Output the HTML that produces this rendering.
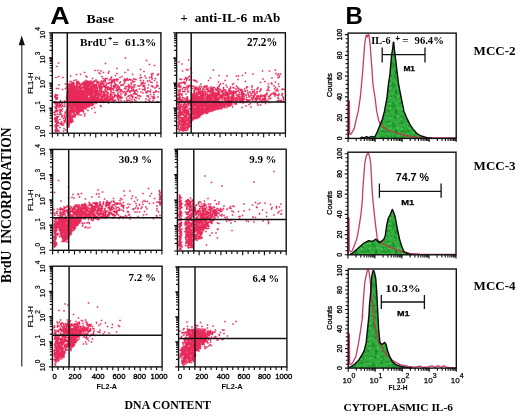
<!DOCTYPE html><html><head><meta charset="utf-8"><style>html,body{margin:0;padding:0;background:#fff;}svg{display:block;will-change:transform}</style></head><body>
<svg width="520" height="416" viewBox="0 0 520 416">
<rect width="520" height="416" fill="#fff"/>
<defs><pattern id="gpat" width="20" height="20" patternUnits="userSpaceOnUse"><rect width="20" height="20" fill="#30ad3c"/><rect x="2.4" y="9.5" width="1.4" height="1.4" fill="#1a8a26"/><rect x="0.5" y="2.8" width="1.7" height="1.7" fill="#1d8f29"/><rect x="1.3" y="2.5" width="1.7" height="1.7" fill="#178322"/><rect x="11.8" y="7.0" width="1.3" height="1.3" fill="#22952e"/><rect x="12.6" y="5.2" width="0.9" height="0.9" fill="#1a8a26"/><rect x="15.0" y="12.7" width="1.3" height="1.3" fill="#1d8f29"/><rect x="15.5" y="10.4" width="1.8" height="1.8" fill="#178322"/><rect x="3.9" y="10.5" width="1.3" height="1.3" fill="#22952e"/><rect x="6.7" y="11.2" width="1.0" height="1.0" fill="#1a8a26"/><rect x="15.2" y="16.5" width="0.9" height="0.9" fill="#1d8f29"/><rect x="8.9" y="5.3" width="0.9" height="0.9" fill="#178322"/><rect x="17.0" y="8.2" width="0.9" height="0.9" fill="#22952e"/><rect x="12.8" y="3.8" width="1.7" height="1.7" fill="#1a8a26"/><rect x="4.1" y="0.6" width="1.0" height="1.0" fill="#1d8f29"/><rect x="6.6" y="8.9" width="1.7" height="1.7" fill="#178322"/><rect x="13.2" y="6.4" width="0.8" height="0.8" fill="#22952e"/><rect x="3.0" y="18.9" width="1.3" height="1.3" fill="#1a8a26"/><rect x="13.1" y="1.0" width="0.8" height="0.8" fill="#1d8f29"/><rect x="16.1" y="11.2" width="1.1" height="1.1" fill="#178322"/><rect x="6.0" y="1.7" width="1.0" height="1.0" fill="#22952e"/><rect x="0.5" y="15.9" width="1.3" height="1.3" fill="#1a8a26"/><rect x="2.4" y="14.0" width="1.0" height="1.0" fill="#1d8f29"/><rect x="1.2" y="11.4" width="1.7" height="1.7" fill="#178322"/><rect x="0.5" y="15.3" width="1.0" height="1.0" fill="#22952e"/><rect x="1.8" y="0.3" width="1.1" height="1.1" fill="#1a8a26"/><rect x="13.8" y="9.4" width="1.7" height="1.7" fill="#1d8f29"/><rect x="4.1" y="6.0" width="1.1" height="1.1" fill="#178322"/><rect x="18.6" y="17.9" width="1.1" height="1.1" fill="#22952e"/><rect x="8.3" y="6.0" width="1.5" height="1.5" fill="#1a8a26"/><rect x="0.8" y="1.3" width="1.2" height="1.2" fill="#1d8f29"/><rect x="4.7" y="16.1" width="1.5" height="1.5" fill="#178322"/><rect x="10.4" y="12.6" width="1.5" height="1.5" fill="#22952e"/><rect x="14.8" y="17.6" width="0.9" height="0.9" fill="#1a8a26"/><rect x="11.9" y="2.7" width="1.2" height="1.2" fill="#1d8f29"/><rect x="14.9" y="17.0" width="1.6" height="1.6" fill="#178322"/><rect x="0.7" y="6.8" width="1.0" height="1.0" fill="#22952e"/><rect x="19.0" y="2.7" width="1.0" height="1.0" fill="#1a8a26"/><rect x="6.8" y="1.2" width="1.7" height="1.7" fill="#1d8f29"/><rect x="12.1" y="3.0" width="1.3" height="1.3" fill="#178322"/><rect x="1.5" y="11.6" width="1.0" height="1.0" fill="#22952e"/><rect x="0.7" y="2.2" width="1.4" height="1.4" fill="#1a8a26"/><rect x="12.1" y="6.2" width="1.4" height="1.4" fill="#1d8f29"/><rect x="6.7" y="2.5" width="1.1" height="1.1" fill="#178322"/><rect x="7.5" y="17.3" width="0.9" height="0.9" fill="#22952e"/><rect x="1.6" y="10.7" width="1.8" height="1.8" fill="#1a8a26"/><rect x="17.2" y="13.3" width="0.9" height="0.9" fill="#1d8f29"/><rect x="15.3" y="13.0" width="0.9" height="0.9" fill="#178322"/><rect x="8.8" y="0.9" width="1.6" height="1.6" fill="#22952e"/><rect x="13.7" y="15.3" width="1.6" height="1.6" fill="#1a8a26"/><rect x="5.1" y="15.0" width="1.0" height="1.0" fill="#1d8f29"/><rect x="2.6" y="7.4" width="1.3" height="1.3" fill="#178322"/><rect x="5.4" y="11.5" width="1.4" height="1.4" fill="#22952e"/><rect x="4.6" y="11.8" width="1.2" height="1.2" fill="#1a8a26"/><rect x="14.0" y="5.5" width="1.6" height="1.6" fill="#1d8f29"/><rect x="7.9" y="10.5" width="1.5" height="1.5" fill="#178322"/><rect x="9.8" y="4.9" width="1.8" height="1.8" fill="#22952e"/><rect x="1.8" y="6.2" width="1.3" height="1.3" fill="#1a8a26"/><rect x="0.5" y="2.9" width="1.6" height="1.6" fill="#1d8f29"/><rect x="14.9" y="12.1" width="1.7" height="1.7" fill="#178322"/><rect x="14.4" y="5.7" width="1.4" height="1.4" fill="#22952e"/><rect x="6.5" y="14.2" width="1.2" height="1.2" fill="#1a8a26"/><rect x="2.9" y="16.7" width="1.5" height="1.5" fill="#1d8f29"/><rect x="14.1" y="10.6" width="1.6" height="1.6" fill="#178322"/><rect x="8.5" y="10.8" width="0.9" height="0.9" fill="#22952e"/><rect x="10.5" y="15.5" width="1.5" height="1.5" fill="#1a8a26"/><rect x="15.3" y="9.4" width="1.7" height="1.7" fill="#1d8f29"/><rect x="2.1" y="16.6" width="1.2" height="1.2" fill="#178322"/><rect x="1.7" y="11.8" width="1.3" height="1.3" fill="#22952e"/><rect x="8.1" y="16.2" width="0.9" height="0.9" fill="#1a8a26"/><rect x="11.7" y="7.9" width="1.3" height="1.3" fill="#1d8f29"/><rect x="9.5" y="2.5" width="1.2" height="1.2" fill="#4cca5a"/><rect x="16.4" y="3.3" width="0.8" height="0.8" fill="#4cca5a"/><rect x="1.3" y="8.7" width="1.5" height="1.5" fill="#4cca5a"/><rect x="0.8" y="18.8" width="1.2" height="1.2" fill="#4cca5a"/><rect x="2.3" y="8.0" width="0.9" height="0.9" fill="#4cca5a"/><rect x="13.6" y="10.3" width="1.0" height="1.0" fill="#4cca5a"/><rect x="4.9" y="16.5" width="1.3" height="1.3" fill="#4cca5a"/><rect x="8.3" y="7.7" width="1.3" height="1.3" fill="#4cca5a"/><rect x="18.4" y="1.5" width="0.9" height="0.9" fill="#4cca5a"/><rect x="6.9" y="9.6" width="0.8" height="0.8" fill="#4cca5a"/><rect x="1.0" y="4.2" width="1.1" height="1.1" fill="#4cca5a"/><rect x="14.0" y="11.6" width="0.8" height="0.8" fill="#4cca5a"/><rect x="0.9" y="8.6" width="1.4" height="1.4" fill="#4cca5a"/><rect x="17.4" y="6.9" width="1.4" height="1.4" fill="#4cca5a"/><rect x="17.7" y="7.7" width="1.3" height="1.3" fill="#4cca5a"/><rect x="6.9" y="2.9" width="1.2" height="1.2" fill="#4cca5a"/><rect x="1.6" y="12.6" width="1.4" height="1.4" fill="#4cca5a"/><rect x="17.4" y="8.5" width="0.9" height="0.9" fill="#4cca5a"/><rect x="17.1" y="16.5" width="1.5" height="1.5" fill="#4cca5a"/><rect x="11.3" y="12.8" width="1.1" height="1.1" fill="#4cca5a"/><rect x="3.5" y="5.5" width="1.3" height="1.3" fill="#4cca5a"/><rect x="6.2" y="13.1" width="1.2" height="1.2" fill="#4cca5a"/><rect x="8.5" y="18.4" width="0.9" height="0.9" fill="#4cca5a"/><rect x="9.3" y="3.0" width="1.5" height="1.5" fill="#4cca5a"/><rect x="9.3" y="6.3" width="0.9" height="0.9" fill="#4cca5a"/><rect x="11.3" y="7.6" width="0.9" height="0.9" fill="#4cca5a"/><rect x="0.6" y="7.4" width="1.2" height="1.2" fill="#4cca5a"/><rect x="9.9" y="17.1" width="1.4" height="1.4" fill="#4cca5a"/><rect x="17.8" y="15.2" width="1.1" height="1.1" fill="#4cca5a"/><rect x="10.0" y="7.5" width="1.1" height="1.1" fill="#4cca5a"/></pattern></defs>
<filter id="sblur" x="-5%" y="-5%" width="110%" height="110%"><feGaussianBlur stdDeviation="0.4"/></filter>
<g filter="url(#sblur)">
<path transform="scale(.5)" d="M131 168h0M150 178h0M150 198h0M160 193h0M189 187h0M136 175h0M207 200h0M161 195h0M168 186h0M160 171h0M158 176h0M140 180h0M138 170h0M171 181h0M203 184h0M160 182h0M233 177h0M228 175h0M148 192h0M201 186h0M151 176h0M143 197h0M146 189h0M266 180h0M163 191h0M136 197h0M142 202h0M215 198h0M162 194h0M185 193h0M177 169h0M191 194h0M176 179h0M181 168h0M166 182h0M144 169h0M142 192h0M136 196h0M197 197h0M139 176h0M207 191h0M216 198h0M181 166h0M140 176h0M173 176h0M239 179h0M172 174h0M198 186h0M142 186h0M164 194h0M146 189h0M172 193h0M171 196h0M212 194h0M171 197h0M147 170h0M158 201h0M140 190h0M197 171h0M165 185h0M146 186h0M184 185h0M193 172h0M204 176h0M179 180h0M167 195h0M237 179h0M156 167h0M141 185h0M201 169h0M168 163h0M154 205h0M154 181h0M148 191h0M215 176h0M159 166h0M149 198h0M154 202h0M141 175h0M148 183h0M192 182h0M138 176h0M155 191h0M197 196h0M172 193h0M138 192h0M172 164h0M155 175h0M187 183h0M134 192h0M168 184h0M203 180h0M153 197h0M226 160h0M242 170h0M147 177h0M180 204h0M144 175h0M251 161h0M177 180h0M167 190h0M145 174h0M164 195h0M144 176h0M146 194h0M171 173h0M161 200h0M189 172h0M139 197h0M137 199h0M190 173h0M147 169h0M180 187h0M184 185h0M146 183h0M143 197h0M166 186h0M141 186h0M243 180h0M194 184h0M152 183h0M247 169h0M178 177h0M227 172h0M172 176h0M179 197h0M178 171h0M143 177h0M213 184h0M201 175h0M210 171h0M141 187h0M149 188h0M143 195h0M187 203h0M192 199h0M177 184h0M168 177h0M200 203h0M143 178h0M168 175h0M149 205h0M162 183h0M135 187h0M154 171h0M150 202h0M206 166h0M176 182h0M225 200h0M170 201h0M189 203h0M151 196h0M208 171h0M214 157h0M147 186h0M166 166h0M228 205h0M172 161h0M138 184h0M138 172h0M177 163h0M161 186h0M145 203h0M189 190h0M202 178h0M202 198h0M161 197h0M150 180h0M136 200h0M157 201h0M161 193h0M169 180h0M152 201h0M145 203h0M140 184h0M196 165h0M155 190h0M161 176h0M208 188h0M182 179h0M184 202h0M143 180h0M162 170h0M174 162h0M179 179h0M185 204h0M213 183h0M201 201h0M180 163h0M160 180h0M184 197h0M232 159h0M212 200h0M224 165h0M177 187h0M189 184h0M135 197h0M220 176h0M245 170h0M147 180h0M140 177h0M212 190h0M144 187h0M184 176h0M222 177h0M160 199h0M138 182h0M156 188h0M185 203h0M169 178h0M185 196h0M182 167h0M143 194h0M178 197h0M156 198h0M152 200h0M239 194h0M208 204h0M183 176h0M139 188h0M211 164h0M158 183h0M172 196h0M144 167h0M148 202h0M198 173h0M137 180h0M249 202h0M171 199h0M237 193h0M305 172h0M163 182h0M137 180h0M195 195h0M184 193h0M194 183h0M141 199h0M136 185h0M133 195h0M134 191h0M179 177h0M164 186h0M150 192h0M191 184h0M160 172h0M170 203h0M193 200h0M203 162h0M143 201h0M137 187h0M206 169h0M226 198h0M212 176h0M161 193h0M176 197h0M152 187h0M272 159h0M141 192h0M143 201h0M190 177h0M152 194h0M147 199h0M200 178h0M150 184h0M137 185h0M218 160h0M164 174h0M155 179h0M229 159h0M217 194h0M190 183h0M182 189h0M168 176h0M147 194h0M148 187h0M147 191h0M136 183h0M214 188h0M163 198h0M167 187h0M170 196h0M220 165h0M160 201h0M140 190h0M156 181h0M140 198h0M181 188h0M148 168h0M149 186h0M142 193h0M217 203h0M146 192h0M179 185h0M182 181h0M164 186h0M156 195h0M168 196h0M142 198h0M136 170h0M235 194h0M147 180h0M146 183h0M193 199h0M153 165h0M199 174h0M192 182h0M203 199h0M183 175h0M194 198h0M210 171h0M149 181h0M163 188h0M145 199h0M165 201h0M138 194h0M213 190h0M187 182h0M183 195h0M177 203h0M162 188h0M150 197h0M149 173h0M152 197h0M148 181h0M136 189h0M149 188h0M139 170h0M162 196h0M232 191h0M165 169h0M138 180h0M225 194h0M156 202h0M236 198h0M212 184h0M181 179h0M172 180h0M143 177h0M228 185h0M169 171h0M169 180h0M254 157h0M143 184h0M173 190h0M198 190h0M139 205h0M147 199h0M197 191h0M141 201h0M192 181h0M193 197h0M190 175h0M193 188h0M161 205h0M161 189h0M143 187h0M155 200h0M152 178h0M204 201h0M210 162h0M176 174h0M150 176h0M190 200h0M225 161h0M177 178h0M141 190h0M154 198h0M154 197h0M144 178h0M198 199h0M182 168h0M179 165h0M156 176h0M232 181h0M207 200h0M168 193h0M208 189h0M154 187h0M196 187h0M222 170h0M169 195h0M146 188h0M222 200h0M154 168h0M188 199h0M200 181h0M191 202h0M152 191h0M190 189h0M163 197h0M155 192h0M139 192h0M159 170h0M180 187h0M202 167h0M181 173h0M213 196h0M170 165h0M187 205h0M178 177h0M166 184h0M212 172h0M175 172h0M149 199h0M175 167h0M164 198h0M142 204h0M168 190h0M136 185h0M191 171h0M140 173h0M138 181h0M185 199h0M182 162h0M135 197h0M223 189h0M169 165h0M188 162h0M229 194h0M139 195h0M214 197h0M190 171h0M174 183h0M194 167h0M156 192h0M178 168h0M172 171h0M166 196h0M174 185h0M162 191h0M185 194h0M196 189h0M234 170h0M233 192h0M152 173h0M148 177h0M137 187h0M144 173h0M134 174h0M239 192h0M189 193h0M217 176h0M189 179h0M206 173h0M170 187h0M177 186h0M184 201h0M209 159h0M209 204h0M282 170h0M164 195h0M192 202h0M191 191h0M212 200h0M185 171h0M210 184h0M177 165h0M181 197h0M234 162h0M158 194h0M137 192h0M141 171h0M142 189h0M195 192h0M136 184h0M203 204h0M236 189h0M145 184h0M138 173h0M167 202h0M170 195h0M189 189h0M166 190h0M142 188h0M148 192h0M145 182h0M172 187h0M181 180h0M145 192h0M164 175h0M147 169h0M135 169h0M204 173h0M134 199h0M208 194h0M166 195h0M152 187h0M241 164h0M140 188h0M146 199h0M141 188h0M160 192h0M155 186h0M184 171h0M148 191h0M164 188h0M138 181h0M195 175h0M147 194h0M141 180h0M144 189h0M159 178h0M163 192h0M224 178h0M161 182h0M145 198h0M148 196h0M156 195h0M169 181h0M148 199h0M169 177h0M157 206h0M145 200h0M213 189h0M165 198h0M194 181h0M144 174h0M186 197h0M141 175h0M152 187h0M201 167h0M169 202h0M152 203h0M149 194h0M227 186h0M217 177h0M143 170h0M146 168h0M201 190h0M171 196h0M160 202h0M153 181h0M141 203h0M186 175h0M174 198h0M138 200h0M174 169h0M165 197h0M155 194h0M149 199h0M151 187h0M186 186h0M221 177h0M167 199h0M139 202h0M151 173h0M224 194h0M155 180h0M168 172h0M178 172h0M252 187h0M152 178h0M183 173h0M155 173h0M136 195h0M175 164h0M279 178h0M142 190h0M164 169h0M171 174h0M193 205h0M152 198h0M173 193h0M162 187h0M135 177h0M185 184h0M237 199h0M143 201h0M138 185h0M148 170h0M206 200h0M137 201h0M212 184h0M184 177h0M146 190h0M175 182h0M188 178h0M214 174h0M154 167h0M171 175h0M191 162h0M162 196h0M158 196h0M158 183h0M187 191h0M149 175h0M192 189h0M183 194h0M180 191h0M145 187h0M172 205h0M168 200h0M147 190h0M184 193h0M151 199h0M184 191h0M165 199h0M158 181h0M200 204h0M248 161h0M240 184h0M139 172h0M150 178h0M215 193h0M145 169h0M188 183h0M139 176h0M158 200h0M222 176h0M212 198h0M169 197h0M173 192h0M143 202h0M142 169h0M166 191h0M152 193h0M159 195h0M186 195h0M155 166h0M188 164h0M195 195h0M137 191h0M172 173h0M154 163h0M144 187h0M170 169h0M220 194h0M189 178h0M156 194h0M267 158h0M183 185h0M174 192h0M242 188h0M154 200h0M163 178h0M170 199h0M158 181h0M238 205h0M224 177h0M164 202h0M167 169h0M240 197h0M169 178h0M142 187h0M157 191h0M167 168h0M155 175h0M223 165h0M156 195h0M177 174h0M151 186h0M155 177h0M254 202h0M195 184h0M149 193h0M191 194h0M241 196h0M138 176h0M225 163h0M182 184h0M163 169h0M139 198h0M242 189h0M154 184h0M218 167h0M151 192h0M140 187h0M151 174h0M138 206h0M161 201h0M167 199h0M224 198h0M136 192h0M231 174h0M236 186h0M203 168h0M171 191h0M207 162h0M137 194h0M137 183h0M150 194h0M136 199h0M158 199h0M142 191h0M155 192h0M254 200h0M140 202h0M148 172h0M160 176h0M175 180h0M190 176h0M147 172h0M184 197h0M147 167h0M215 192h0M170 174h0M160 200h0M212 197h0M238 179h0M172 168h0M164 176h0M171 204h0M166 197h0M206 163h0M219 199h0M175 181h0M149 196h0M167 176h0M164 169h0M186 165h0M242 171h0M152 197h0M214 201h0M169 193h0M153 196h0M149 175h0M220 179h0M145 200h0M217 206h0M172 182h0M183 198h0M197 202h0M157 208h0M169 177h0M237 191h0M173 179h0M141 183h0M152 183h0M138 178h0M166 166h0M139 196h0M197 194h0M157 174h0M158 176h0M209 187h0M145 200h0M147 183h0M144 177h0M207 186h0M218 201h0M142 197h0M198 196h0M222 180h0M151 176h0M138 201h0M172 195h0M141 199h0M170 183h0M163 177h0M173 172h0M135 201h0M183 203h0M269 174h0M188 200h0M161 181h0M179 190h0M193 172h0M159 177h0M137 183h0M183 177h0M186 184h0M160 169h0M244 196h0M208 171h0M156 187h0M144 194h0M146 175h0M227 177h0M160 190h0M164 202h0M137 196h0M185 171h0M166 201h0M167 189h0M197 192h0M175 170h0M212 183h0M150 193h0M191 196h0M184 172h0M169 197h0M262 192h0M171 197h0M162 182h0M141 201h0M151 204h0M198 196h0M227 185h0M150 173h0M137 193h0M140 200h0M202 169h0M150 194h0M181 194h0M195 163h0M182 202h0M246 185h0M175 177h0M148 161h0M141 197h0M229 174h0M185 188h0M140 178h0M162 191h0M172 184h0M158 197h0M151 192h0M152 196h0M144 179h0M141 170h0M196 199h0M142 201h0M187 201h0M147 195h0M171 191h0M190 182h0M146 183h0M185 183h0M193 172h0M256 180h0M241 182h0M147 171h0M173 182h0M144 180h0M137 192h0M215 196h0M206 190h0M139 191h0M209 173h0M144 182h0M170 197h0M147 204h0M173 172h0M137 168h0M161 203h0M161 201h0M179 195h0M142 201h0M137 178h0M185 182h0M158 193h0M174 172h0M148 193h0M193 170h0M210 192h0M196 195h0M166 185h0M192 207h0M142 195h0M202 164h0M184 192h0M198 201h0M156 202h0M173 166h0M170 200h0M155 198h0M137 192h0M162 183h0M160 195h0M137 179h0M140 194h0M162 193h0M159 187h0M195 175h0M147 165h0M198 199h0M167 174h0M253 160h0M175 174h0M176 186h0M151 189h0M230 200h0M224 195h0M237 201h0M189 199h0M169 184h0M176 170h0M176 203h0M140 179h0M157 194h0M170 178h0M138 199h0M189 171h0M257 179h0M168 175h0M191 201h0M186 192h0M150 189h0M181 176h0M155 176h0M184 197h0M216 193h0M137 200h0M162 189h0M189 169h0M141 190h0M190 176h0M142 184h0M164 191h0M190 203h0M156 197h0M147 184h0M142 196h0M139 201h0M181 195h0M188 184h0M159 196h0M158 187h0M176 170h0M156 176h0M156 190h0M158 182h0M241 181h0M155 185h0M229 166h0M186 168h0M167 169h0M155 193h0M156 180h0M139 185h0M138 198h0M153 189h0M225 194h0M145 197h0M249 202h0M153 173h0M174 185h0M171 203h0M145 187h0M151 199h0M208 167h0M223 160h0M189 197h0M242 179h0M218 201h0M189 174h0M171 204h0M206 183h0M137 189h0M165 183h0M226 196h0M144 165h0M146 172h0M188 171h0M167 192h0M150 198h0M177 185h0M137 189h0M224 190h0M240 155h0M154 180h0M180 203h0M153 182h0M176 200h0M150 183h0M142 168h0M263 168h0M195 175h0M192 182h0M183 186h0M157 187h0M186 183h0M180 165h0M171 175h0M183 203h0M180 164h0M158 195h0M196 186h0M216 194h0M171 177h0M251 174h0M175 186h0M169 202h0M155 180h0M229 162h0M195 163h0M198 196h0M192 169h0M174 188h0M183 204h0M140 187h0M217 166h0M211 179h0M258 171h0M192 160h0M148 202h0M149 186h0M143 173h0M150 204h0M145 204h0M196 195h0M247 170h0M174 189h0M142 190h0M151 198h0M183 204h0M169 202h0M177 180h0M156 189h0M171 170h0M241 183h0M253 160h0M153 170h0M268 170h0M176 181h0M145 196h0M147 170h0M162 171h0M145 194h0M166 190h0M173 193h0M154 192h0M158 192h0M195 186h0M139 193h0M180 170h0M147 173h0M187 195h0M152 174h0M161 188h0M149 173h0M136 187h0M142 195h0M152 194h0M174 183h0M192 177h0M205 197h0M137 192h0M172 184h0M160 199h0M172 194h0M145 200h0M174 191h0M193 199h0M178 189h0M252 189h0M173 197h0M134 186h0M190 189h0M170 171h0M204 195h0M172 194h0M229 201h0M154 182h0M138 187h0M188 199h0M260 174h0M203 199h0M146 184h0M153 178h0M169 178h0M146 177h0M316 172h0M299 161h0M191 197h0M303 154h0M223 163h0M156 163h0M225 204h0M183 167h0M211 190h0M253 173h0M304 165h0M283 165h0M167 193h0M223 199h0M317 184h0M149 173h0M231 170h0M183 176h0M238 176h0M194 184h0M309 196h0M149 187h0M173 199h0M147 193h0M269 184h0M187 184h0M301 189h0M301 180h0M308 193h0M179 170h0M136 178h0M209 197h0M314 171h0M146 201h0M270 185h0M304 158h0M316 194h0M271 187h0M297 170h0M292 198h0M196 182h0M157 165h0M269 158h0M162 178h0M203 189h0M239 166h0M235 159h0M307 185h0M304 193h0M203 200h0M195 202h0M303 148h0M171 170h0M139 192h0M299 202h0M250 163h0M260 184h0M144 184h0M153 178h0M229 171h0M145 179h0M229 165h0M269 182h0M260 182h0M250 191h0M142 193h0M181 199h0M303 172h0M159 198h0M235 175h0M147 193h0M308 197h0M169 181h0M215 180h0M237 190h0M265 162h0M198 170h0M148 189h0M269 200h0M315 203h0M138 180h0M281 161h0M222 182h0M231 173h0M253 196h0M262 182h0M208 188h0M267 182h0M221 192h0M211 201h0M199 201h0M227 201h0M184 199h0M179 169h0M162 185h0M216 192h0M292 184h0M292 156h0M201 173h0M252 178h0M304 156h0M203 181h0M239 174h0M218 198h0M255 173h0M314 170h0M157 198h0M312 182h0M259 159h0M286 166h0M252 185h0M295 163h0M192 174h0M267 188h0M184 185h0M228 171h0M259 184h0M175 191h0M147 166h0M285 167h0M287 170h0M257 200h0M195 164h0M258 174h0M150 176h0M258 191h0M241 193h0M249 158h0M218 201h0M174 193h0M266 164h0M221 196h0M270 170h0M203 195h0M150 173h0M236 179h0M254 183h0M306 201h0M300 197h0M146 187h0M280 156h0M182 181h0M266 174h0M206 205h0M195 189h0M227 180h0M235 179h0M265 195h0M257 160h0M264 199h0M208 194h0M263 177h0M201 193h0M249 177h0M223 167h0M239 179h0M140 168h0M227 162h0M175 184h0M209 200h0M151 177h0M259 184h0M301 204h0M202 197h0M154 200h0M250 188h0M160 189h0M301 184h0M159 189h0M223 173h0M160 173h0M195 167h0M186 182h0M271 195h0M201 170h0M281 193h0M159 171h0M242 201h0M214 190h0M188 186h0M286 173h0M273 196h0M164 167h0M193 163h0M298 183h0M317 148h0M272 202h0M257 193h0M175 168h0M204 193h0M249 183h0M308 189h0M189 194h0M206 205h0M264 203h0M216 179h0M287 165h0M179 184h0M258 176h0M260 201h0M222 185h0M170 168h0M273 180h0M170 194h0M153 167h0M221 198h0M176 199h0M281 150h0M287 179h0M311 157h0M295 182h0M253 159h0M169 200h0M287 161h0M274 189h0M273 188h0M264 175h0M290 167h0M185 201h0M262 160h0M231 168h0M199 176h0M166 183h0M228 162h0M208 185h0M213 190h0M296 191h0M263 181h0M262 172h0M315 150h0M177 186h0M230 189h0M155 185h0M208 201h0M309 161h0M151 197h0M276 192h0M297 200h0M231 201h0M283 167h0M214 203h0M199 182h0M229 193h0M172 201h0M194 189h0M192 188h0M198 186h0M177 175h0M313 174h0M161 184h0M315 203h0M294 184h0M257 193h0M214 167h0M172 180h0M155 169h0M196 201h0M210 180h0M306 174h0M235 182h0M319 177h0M271 181h0M236 191h0M165 174h0M310 176h0M197 164h0M171 183h0M152 185h0M256 193h0M223 163h0M266 194h0M185 178h0M278 197h0M230 190h0M236 159h0M220 178h0M260 196h0M286 186h0M149 204h0M229 191h0M181 187h0M156 199h0M175 182h0M184 164h0M314 165h0M275 183h0M291 203h0M262 189h0M193 176h0M208 204h0M217 178h0M190 175h0M216 188h0M279 172h0M146 173h0M188 193h0M226 194h0M261 205h0M256 160h0M269 199h0M156 196h0M168 174h0M193 184h0M189 192h0M276 172h0M265 192h0M193 182h0M285 179h0M306 196h0M245 183h0M201 180h0M205 203h0M294 192h0M201 173h0M136 200h0M158 200h0M296 176h0M249 166h0M148 202h0M204 176h0M283 155h0M257 169h0M211 160h0M250 159h0M261 159h0M221 198h0M171 181h0M220 190h0M267 178h0M235 195h0M180 187h0M148 181h0M172 162h0M169 188h0M213 169h0M194 176h0M202 197h0M290 175h0M139 174h0M157 189h0M290 180h0M234 158h0M217 174h0M185 191h0M236 172h0M179 202h0M297 194h0M289 180h0M195 201h0M138 168h0M301 164h0M189 199h0M256 182h0M295 162h0M282 184h0M293 186h0M226 185h0M290 152h0M185 180h0M222 156h0M198 166h0M279 191h0M290 177h0M161 169h0M165 198h0M210 175h0M222 200h0M313 183h0M310 184h0M313 174h0M270 188h0M262 166h0M186 174h0M205 199h0M136 175h0M289 172h0M187 196h0M152 179h0M194 176h0M191 199h0M269 163h0M200 189h0M154 191h0M164 185h0M198 182h0M219 201h0M141 200h0M147 197h0M158 183h0M163 192h0M192 199h0M190 191h0M181 190h0M139 196h0M163 183h0M184 189h0M194 186h0M165 189h0M141 193h0M155 190h0M172 199h0M145 201h0M214 199h0M153 197h0M142 193h0M169 186h0M150 198h0M146 182h0M152 193h0M159 195h0M176 183h0M156 185h0M194 196h0M148 200h0M194 190h0M207 194h0M197 198h0M173 192h0M144 191h0M159 195h0M177 199h0M139 200h0M163 195h0M171 182h0M163 184h0M137 200h0M197 185h0M160 188h0M153 182h0M164 185h0M178 201h0M220 201h0M154 196h0M153 194h0M194 195h0M183 183h0M164 183h0M176 197h0M160 182h0M155 205h0M152 183h0M150 195h0M167 191h0M143 193h0M172 199h0M144 187h0M217 200h0M157 199h0M134 194h0M169 195h0M184 188h0M201 201h0M189 193h0M138 203h0M183 202h0M137 191h0M146 188h0M149 197h0M171 195h0M169 202h0M153 201h0M161 197h0M146 204h0M172 196h0M171 201h0M160 185h0M168 195h0M176 190h0M193 185h0M141 186h0M202 187h0M136 180h0M143 202h0M183 205h0M216 201h0M141 198h0M171 195h0M170 193h0M157 196h0M169 197h0M191 188h0M151 185h0M140 194h0M149 194h0M144 204h0M160 192h0M159 190h0M178 183h0M192 204h0M163 181h0M176 184h0M146 187h0M176 181h0M164 202h0M216 185h0M160 190h0M186 197h0M162 198h0M186 202h0M196 196h0M162 182h0M140 180h0M158 197h0M148 192h0M157 185h0M205 184h0M164 190h0M160 186h0M174 186h0M184 188h0M141 196h0M166 189h0M154 199h0M147 190h0M173 186h0M151 201h0M160 194h0M176 187h0M158 204h0M243 194h0M183 187h0M175 185h0M146 184h0M151 180h0M161 184h0M134 186h0M195 193h0M145 189h0M166 181h0M190 185h0M141 181h0M149 178h0M150 187h0M173 194h0M150 182h0M164 202h0M167 195h0M163 181h0M185 182h0M148 193h0M148 200h0M167 204h0M138 198h0M162 201h0M153 183h0M173 194h0M172 193h0M157 186h0M153 194h0M169 192h0M182 202h0M139 179h0M160 188h0M186 185h0M143 187h0M151 185h0M162 190h0M136 202h0M155 188h0M189 189h0M158 185h0M195 186h0M177 185h0M161 193h0M137 187h0M174 184h0M161 192h0M138 180h0M158 201h0M138 179h0M163 188h0M173 207h0M159 186h0M179 182h0M149 194h0M183 187h0M165 186h0M148 195h0M175 194h0M175 188h0M143 197h0M153 197h0M196 192h0M171 194h0M147 190h0M152 182h0M158 201h0M179 183h0M134 198h0M154 190h0M164 198h0M165 191h0M142 199h0M140 191h0M142 186h0M143 199h0M142 200h0M169 190h0M161 203h0M150 197h0M174 202h0M182 185h0M167 201h0M172 199h0M160 199h0M138 185h0M154 194h0M164 200h0M174 186h0M155 188h0M142 201h0M141 196h0M174 182h0M165 188h0M173 195h0M149 184h0M142 192h0M187 195h0M164 182h0M138 187h0M148 179h0M200 182h0M137 200h0M149 197h0M195 192h0M155 200h0M155 184h0M186 178h0M173 200h0M145 194h0M155 188h0M140 193h0M143 181h0M165 186h0M164 193h0M137 188h0M191 180h0M155 187h0M171 195h0M184 196h0M180 198h0M163 201h0M184 195h0M140 197h0M161 194h0M214 195h0M149 197h0M198 200h0M141 185h0M165 184h0M167 186h0M146 202h0M155 189h0M155 196h0M190 185h0M140 194h0M211 180h0M161 195h0M148 204h0M154 195h0M163 194h0M150 194h0M143 189h0M199 199h0M155 189h0M176 186h0M144 192h0M159 205h0M151 199h0M203 196h0M150 184h0M145 199h0M157 189h0M150 195h0M144 192h0M158 200h0M147 180h0M144 183h0M221 188h0M140 185h0M157 195h0M168 184h0M146 183h0M153 194h0M154 181h0M173 199h0M139 188h0M191 188h0M161 194h0M167 203h0M146 185h0M164 184h0M140 188h0M152 199h0M142 203h0M156 183h0M165 182h0M147 190h0M145 187h0M136 199h0M213 197h0M144 198h0M184 189h0M183 187h0M189 204h0M195 178h0M163 178h0M156 181h0M167 200h0M169 145h0M299 155h0M265 149h0M169 167h0M221 158h0M152 160h0M140 163h0M250 145h0M231 151h0M204 153h0M304 151h0M190 141h0M316 149h0M174 154h0M154 163h0M142 163h0M306 147h0M281 139h0M206 157h0M223 154h0M244 153h0M141 152h0M172 152h0M217 146h0M198 146h0M288 143h0M185 157h0M161 149h0M153 149h0M234 147h0M211 157h0M309 131h0M222 156h0M211 127h0M234 137h0M202 142h0M196 141h0M207 145h0M256 140h0M293 121h0M200 147h0M218 143h0M299 129h0M251 116h0M179 209h0M141 210h0M143 245h0M144 204h0M150 223h0M139 221h0M170 204h0M182 208h0M163 217h0M177 212h0M147 232h0M137 238h0M170 216h0M142 240h0M174 206h0M157 212h0M165 217h0M135 253h0M138 218h0M155 215h0M162 213h0M172 215h0M144 243h0M171 208h0M159 212h0M147 226h0M140 216h0M179 213h0M142 222h0M135 252h0M150 217h0M136 226h0M165 213h0M138 253h0M140 233h0M144 209h0M139 213h0M175 210h0M150 234h0M171 204h0M138 245h0M176 207h0M153 208h0M187 207h0M151 208h0M142 218h0M138 235h0M152 220h0M156 227h0M146 211h0M167 210h0M136 242h0M143 218h0M186 204h0M140 214h0M137 207h0M140 223h0M150 217h0M135 235h0M145 207h0M162 210h0M143 221h0M174 214h0M143 235h0M155 220h0M161 215h0M136 225h0M144 233h0M143 236h0M137 215h0M179 209h0M139 225h0M136 231h0M182 211h0M140 226h0M137 243h0M162 221h0M142 231h0M150 209h0M155 209h0M177 210h0M149 229h0M145 231h0M151 229h0M136 209h0M145 222h0M160 214h0M143 215h0M154 212h0M137 225h0M139 206h0M148 213h0M164 220h0M141 206h0M138 235h0M185 206h0M140 223h0M138 245h0M153 224h0M137 227h0M137 215h0M140 207h0M157 214h0M152 222h0M160 214h0M154 227h0M142 206h0M154 213h0M150 216h0M147 211h0M140 245h0M149 224h0M137 246h0M141 231h0M156 210h0M153 211h0M138 217h0M147 212h0M156 215h0M137 246h0M171 215h0M172 207h0M160 212h0M160 211h0M186 207h0M148 213h0M160 211h0M157 212h0M160 223h0M143 238h0M149 232h0M142 216h0M135 219h0M164 219h0M141 206h0M135 247h0M138 227h0M148 223h0M159 221h0M155 221h0M141 244h0M147 212h0M136 214h0M136 239h0M162 222h0M176 209h0M154 223h0M144 220h0M172 210h0M146 234h0M153 229h0M136 211h0M141 216h0M144 238h0M152 219h0M140 238h0M138 251h0M165 213h0M161 205h0M144 220h0M138 209h0M144 207h0M152 218h0M154 208h0M140 244h0M162 213h0M141 241h0M143 232h0M145 211h0M145 220h0M136 226h0M139 209h0M139 210h0M164 206h0M153 216h0M135 230h0M161 220h0M175 213h0M147 221h0M133 227h0M147 223h0M144 233h0M150 210h0M185 206h0M147 206h0M178 211h0M135 205h0M180 206h0M144 237h0M155 221h0M147 228h0M172 209h0M154 214h0M156 219h0M151 216h0M163 212h0M157 207h0M138 251h0M166 218h0M136 236h0M166 206h0M159 219h0M143 221h0M139 233h0M154 206h0M159 220h0M179 208h0M139 241h0M141 236h0M138 236h0M158 208h0M186 209h0M138 236h0M136 210h0M139 239h0M151 213h0M143 240h0M174 206h0M148 226h0M168 213h0M155 211h0M139 206h0M152 215h0M159 207h0M170 215h0M186 208h0M140 212h0M169 206h0M143 222h0M144 235h0M162 221h0M141 214h0M147 218h0M137 254h0M147 228h0M185 210h0M147 210h0M138 222h0M188 205h0M166 220h0M141 214h0M145 240h0M157 218h0M138 235h0M166 220h0M137 230h0M142 217h0M162 210h0M161 220h0M140 242h0M156 211h0M150 206h0M150 215h0M137 245h0M141 225h0M157 222h0M137 213h0M137 247h0M163 207h0M150 210h0M159 217h0M155 210h0M174 209h0M138 218h0M154 214h0M166 217h0M140 245h0M159 222h0M161 216h0M150 214h0M139 237h0M141 234h0M145 218h0M155 218h0M158 214h0M137 221h0M148 232h0M140 222h0M141 241h0M152 206h0M143 245h0M150 209h0M142 242h0M142 239h0M144 211h0M171 208h0M153 205h0M166 210h0M139 241h0M152 209h0M170 215h0M155 221h0M136 226h0M137 217h0M135 213h0M145 224h0M153 207h0M155 227h0M173 211h0M178 212h0M178 211h0M138 223h0M136 232h0M138 250h0M150 210h0M158 217h0M160 211h0M166 206h0M172 215h0M137 209h0M141 223h0M153 225h0M148 227h0M139 210h0M141 211h0M171 210h0M152 208h0M177 205h0M139 235h0M165 218h0M142 236h0M142 205h0M179 207h0M160 207h0M150 232h0M138 249h0M157 212h0M187 209h0M148 221h0M143 243h0M154 229h0M153 224h0M169 216h0M144 236h0M161 207h0M141 232h0M144 231h0M144 215h0M138 210h0M146 243h0M175 214h0M139 248h0M137 249h0M136 248h0M160 216h0M154 207h0M159 213h0M159 209h0M173 205h0M156 218h0M140 240h0M158 210h0M141 229h0M149 208h0M141 245h0M149 222h0M142 224h0M166 215h0M137 240h0M140 221h0M179 208h0M167 213h0M134 246h0M135 235h0M164 222h0M138 221h0M144 242h0M145 214h0M184 209h0M158 208h0M139 237h0M164 210h0M166 214h0M168 217h0M141 239h0M143 225h0M168 208h0M159 214h0M164 218h0M154 222h0M154 225h0M144 215h0M157 216h0M135 244h0M185 205h0M158 225h0M137 216h0M149 204h0M136 231h0M165 209h0M172 207h0M182 207h0M160 206h0M138 208h0M172 213h0M164 218h0M152 208h0M172 215h0M147 223h0M139 233h0M137 216h0M154 211h0M138 230h0M146 216h0M155 209h0M137 210h0M143 236h0M147 222h0M142 211h0M171 204h0M150 214h0M141 213h0M167 222h0M146 207h0M147 222h0M159 221h0M156 224h0M141 221h0M161 217h0M169 209h0M142 227h0M145 208h0M156 210h0M143 214h0M148 234h0M148 218h0M172 218h0M160 218h0M176 209h0M170 211h0M164 215h0M159 216h0M144 232h0M167 212h0M151 206h0M158 226h0M185 211h0M178 211h0M157 213h0M169 210h0M169 228h0M167 224h0M214 204h0M170 228h0M176 214h0M176 221h0M155 206h0M158 230h0M162 230h0M202 213h0M189 215h0M201 211h0M154 222h0M169 232h0M157 220h0M154 228h0M192 207h0M190 225h0M180 206h0M184 217h0M158 215h0M114 246h0M112 245h0M110 243h0M110 192h0M112 190h0M111 259h0M112 263h0M109 204h0M108 225h0M112 223h0M112 209h0M115 195h0M113 208h0M111 261h0M116 221h0M111 204h0M110 194h0M109 238h0M115 252h0M113 206h0M113 245h0M112 199h0M114 239h0M115 196h0M114 222h0M111 224h0M115 190h0M110 251h0M112 244h0M113 249h0M112 236h0M114 211h0M111 241h0M114 233h0M111 235h0M113 246h0M115 212h0M114 223h0M115 213h0M115 263h0M113 241h0M113 195h0M115 209h0M113 241h0M115 259h0M109 229h0M111 229h0M111 189h0M112 250h0M113 207h0M110 230h0M113 239h0M114 233h0M114 247h0M110 238h0M113 211h0M111 242h0M111 193h0M115 262h0M110 237h0M114 262h0M113 191h0M110 195h0M113 255h0M110 207h0M111 254h0M110 262h0M115 246h0M115 235h0M111 221h0M112 258h0M114 237h0M113 195h0M116 243h0M113 214h0M114 198h0M113 217h0M112 245h0M111 216h0M112 251h0M110 214h0M112 196h0M115 240h0M114 207h0M115 228h0M117 206h0M111 237h0M111 192h0M112 210h0M112 236h0M114 252h0M110 243h0M129 230h0M124 234h0M120 219h0M120 221h0M122 247h0M124 247h0M130 202h0M124 231h0M128 241h0M121 201h0M131 239h0M120 212h0M124 206h0M124 205h0M136 217h0M124 250h0M121 221h0M124 207h0M129 242h0M127 237h0M135 215h0M124 222h0M129 244h0M130 243h0M117 233h0M118 246h0M121 202h0M132 232h0M130 226h0M131 224h0M118 215h0M122 220h0M129 244h0M122 228h0M121 211h0M123 244h0M133 221h0M131 236h0M120 239h0M135 235h0M129 202h0M134 203h0M127 250h0M123 214h0M129 208h0M121 226h0M125 218h0M130 212h0M125 231h0M122 209h0M124 247h0M120 213h0M121 248h0M128 213h0M131 241h0M120 225h0M119 208h0M118 170h0M112 155h0M125 179h0M117 153h0M117 177h0M131 177h0M114 133h0M117 126h0M113 177h0M126 155h0M110 224h0M128 257h0M118 262h0M127 262h0M119 229h0M129 234h0M133 204h0M124 246h0M117 251h0M118 211h0M113 219h0M131 260h0M120 223h0M113 258h0M119 205h0M120 219h0M120 255h0M125 211h0M128 246h0M116 245h0" stroke="#e82a5a" stroke-opacity="1.0" stroke-width="3" stroke-linecap="square" fill="none"/>
<path transform="scale(.5)" d="M390 229h0M412 227h0M405 222h0M400 227h0M399 212h0M397 220h0M433 218h0M412 219h0M419 220h0M432 207h0M407 223h0M388 234h0M457 212h0M449 213h0M398 218h0M443 209h0M418 205h0M422 211h0M457 206h0M403 226h0M449 210h0M394 230h0M389 209h0M406 219h0M395 232h0M405 221h0M411 206h0M397 215h0M415 215h0M395 224h0M458 210h0M387 223h0M426 206h0M449 208h0M429 206h0M433 210h0M405 228h0M448 206h0M397 229h0M394 221h0M386 219h0M411 221h0M428 206h0M397 217h0M468 205h0M389 237h0M387 221h0M392 220h0M438 214h0M434 214h0M404 215h0M390 228h0M389 233h0M397 228h0M439 217h0M429 211h0M399 209h0M385 237h0M462 209h0M442 218h0M437 215h0M396 225h0M387 206h0M399 223h0M398 217h0M385 236h0M460 209h0M421 214h0M439 217h0M424 214h0M402 207h0M401 225h0M411 214h0M386 224h0M413 218h0M430 217h0M386 233h0M448 210h0M404 206h0M415 211h0M386 214h0M425 213h0M397 229h0M398 221h0M425 210h0M417 224h0M399 215h0M428 205h0M390 225h0M398 212h0M458 207h0M388 216h0M410 223h0M467 205h0M410 208h0M390 205h0M442 213h0M430 214h0M404 206h0M411 213h0M433 206h0M424 218h0M443 206h0M407 217h0M392 210h0M400 229h0M389 225h0M394 220h0M436 214h0M395 207h0M406 224h0M417 216h0M397 231h0M388 229h0M445 212h0M412 212h0M411 205h0M451 208h0M432 215h0M403 215h0M400 210h0M420 218h0M416 212h0M417 209h0M425 209h0M387 226h0M407 225h0M446 209h0M407 222h0M387 235h0M427 218h0M407 213h0M440 205h0M421 220h0M393 236h0M445 214h0M383 240h0M402 221h0M389 211h0M385 238h0M414 206h0M400 230h0M389 231h0M433 210h0M390 207h0M391 236h0M423 218h0M413 206h0M386 211h0M413 213h0M406 225h0M454 210h0M432 214h0M415 223h0M396 223h0M393 222h0M389 228h0M422 206h0M401 229h0M403 220h0M422 213h0M415 210h0M391 227h0M392 235h0M428 207h0M398 217h0M404 219h0M402 207h0M391 219h0M392 208h0M410 218h0M409 222h0M398 210h0M453 210h0M395 209h0M420 219h0M416 215h0M422 210h0M434 211h0M425 219h0M394 234h0M383 219h0M449 215h0M421 208h0M414 220h0M413 215h0M450 215h0M398 221h0M427 211h0M415 205h0M444 211h0M409 206h0M389 210h0M407 209h0M399 229h0M418 221h0M465 214h0M395 206h0M395 208h0M400 208h0M450 213h0M421 211h0M384 227h0M394 224h0M457 209h0M407 227h0M391 223h0M397 206h0M470 208h0M442 213h0M446 213h0M430 216h0M386 234h0M438 212h0M428 217h0M405 222h0M439 213h0M391 234h0M409 210h0M384 220h0M406 211h0M427 207h0M409 223h0M435 215h0M421 210h0M386 239h0M417 218h0M420 216h0M409 211h0M432 211h0M395 232h0M462 209h0M444 206h0M418 221h0M409 207h0M396 229h0M425 215h0M394 227h0M405 217h0M441 208h0M460 207h0M413 213h0M388 225h0M390 220h0M443 208h0M390 217h0M403 218h0M395 218h0M387 237h0M405 208h0M400 207h0M424 214h0M433 214h0M414 222h0M402 207h0M438 208h0M410 209h0M382 210h0M387 233h0M401 224h0M433 214h0M401 231h0M458 210h0M437 208h0M417 213h0M408 219h0M391 208h0M397 211h0M391 221h0M385 236h0M389 224h0M387 206h0M390 217h0M390 217h0M425 206h0M437 211h0M454 207h0M411 217h0M396 213h0M387 224h0M397 217h0M463 204h0M436 207h0M464 210h0M441 204h0M383 216h0M409 217h0M405 209h0M384 208h0M458 207h0M390 209h0M403 215h0M382 237h0M416 207h0M415 202h0M386 235h0M389 207h0M385 213h0M386 209h0M441 206h0M391 224h0M387 210h0M395 214h0M460 210h0M393 226h0M388 235h0M401 222h0M404 222h0M421 212h0M385 225h0M392 233h0M435 208h0M473 208h0M432 215h0M431 210h0M385 223h0M380 205h0M395 231h0M414 213h0M452 209h0M409 223h0M460 210h0M429 207h0M447 209h0M384 207h0M393 211h0M397 204h0M385 229h0M419 212h0M392 221h0M415 215h0M385 224h0M463 204h0M410 217h0M439 210h0M422 215h0M392 216h0M401 213h0M402 217h0M391 222h0M443 206h0M416 212h0M393 218h0M408 220h0M385 228h0M409 218h0M455 208h0M439 212h0M396 218h0M444 205h0M443 209h0M385 219h0M396 223h0M441 207h0M389 224h0M422 214h0M459 209h0M391 208h0M411 211h0M452 205h0M401 220h0M391 212h0M452 210h0M399 227h0M427 219h0M428 217h0M408 225h0M412 224h0M414 216h0M399 214h0M406 214h0M405 210h0M415 211h0M402 209h0M417 215h0M402 212h0M383 220h0M392 218h0M400 209h0M421 211h0M395 214h0M407 205h0M430 210h0M383 213h0M415 207h0M454 204h0M404 223h0M439 211h0M419 212h0M399 225h0M387 212h0M399 231h0M405 205h0M431 219h0M395 207h0M392 213h0M390 211h0M426 213h0M387 238h0M428 213h0M397 228h0M398 221h0M419 216h0M457 208h0M421 223h0M417 206h0M396 211h0M412 202h0M393 212h0M399 218h0M383 208h0M409 218h0M414 214h0M406 222h0M426 213h0M386 239h0M415 208h0M454 210h0M399 218h0M399 222h0M388 221h0M409 207h0M390 224h0M389 224h0M414 217h0M415 209h0M434 217h0M392 221h0M440 217h0M435 213h0M391 226h0M399 228h0M396 223h0M434 211h0M393 225h0M404 207h0M397 208h0M408 220h0M457 210h0M392 233h0M393 214h0M434 214h0M387 208h0M436 218h0M450 209h0M392 208h0M392 214h0M458 206h0M416 211h0M388 230h0M412 209h0M389 207h0M429 206h0M404 222h0M460 205h0M411 214h0M383 216h0M387 209h0M437 210h0M464 206h0M396 212h0M384 216h0M402 226h0M395 220h0M449 208h0M384 237h0M394 235h0M460 211h0M396 221h0M383 243h0M405 216h0M388 219h0M388 237h0M386 236h0M395 214h0M402 205h0M400 221h0M433 209h0M415 209h0M417 222h0M417 212h0M386 234h0M392 213h0M452 209h0M449 208h0M401 205h0M445 208h0M428 208h0M400 204h0M447 214h0M441 217h0M397 215h0M396 235h0M415 218h0M415 212h0M437 208h0M434 217h0M407 224h0M407 225h0M408 211h0M438 211h0M404 219h0M427 213h0M413 217h0M389 228h0M437 206h0M386 229h0M431 205h0M428 214h0M429 220h0M391 235h0M420 209h0M392 237h0M418 222h0M424 217h0M432 212h0M463 205h0M450 209h0M424 210h0M420 213h0M399 234h0M397 218h0M454 204h0M435 204h0M394 218h0M403 209h0M436 219h0M393 224h0M463 206h0M406 207h0M404 213h0M416 212h0M446 209h0M415 213h0M457 208h0M403 209h0M421 205h0M388 222h0M416 212h0M451 208h0M394 217h0M405 219h0M453 208h0M416 204h0M448 209h0M428 217h0M400 229h0M461 204h0M416 206h0M446 207h0M435 217h0M390 227h0M408 208h0M403 229h0M396 223h0M456 210h0M413 213h0M390 224h0M391 233h0M401 221h0M399 227h0M419 220h0M388 224h0M405 223h0M395 218h0M426 221h0M445 207h0M403 226h0M456 209h0M413 218h0M415 226h0M417 210h0M426 219h0M419 212h0M460 209h0M397 228h0M385 240h0M455 210h0M461 210h0M434 215h0M420 217h0M410 209h0M427 209h0M389 217h0M394 207h0M415 207h0M388 212h0M420 210h0M406 216h0M427 206h0M415 221h0M385 207h0M408 226h0M404 207h0M436 205h0M398 209h0M387 213h0M393 218h0M385 237h0M421 219h0M445 207h0M438 212h0M385 236h0M421 217h0M460 208h0M385 227h0M392 210h0M394 208h0M395 219h0M410 224h0M424 222h0M396 212h0M386 235h0M387 217h0M427 209h0M388 212h0M456 207h0M400 208h0M425 220h0M408 205h0M398 225h0M407 220h0M456 210h0M409 207h0M410 208h0M392 216h0M416 212h0M391 222h0M421 222h0M387 239h0M418 220h0M425 217h0M385 238h0M471 206h0M398 218h0M392 221h0M427 208h0M455 212h0M423 209h0M389 217h0M444 216h0M450 210h0M435 216h0M449 211h0M405 225h0M425 208h0M392 229h0M436 207h0M423 214h0M389 224h0M443 210h0M448 213h0M406 211h0M432 213h0M409 213h0M455 209h0M383 238h0M384 210h0M394 236h0M423 218h0M405 208h0M399 228h0M392 233h0M407 220h0M393 213h0M384 236h0M386 222h0M407 225h0M418 216h0M441 210h0M419 211h0M443 212h0M410 224h0M411 223h0M453 203h0M382 231h0M396 216h0M408 206h0M433 214h0M396 222h0M402 212h0M393 231h0M410 208h0M384 214h0M452 208h0M425 214h0M454 215h0M399 219h0M454 204h0M420 217h0M404 219h0M398 222h0M433 210h0M390 209h0M407 221h0M429 210h0M401 221h0M472 206h0M396 232h0M422 213h0M447 213h0M395 236h0M393 207h0M425 205h0M441 210h0M399 207h0M393 206h0M450 212h0M425 218h0M458 205h0M455 211h0M404 218h0M460 212h0M436 219h0M442 215h0M398 215h0M388 209h0M405 210h0M408 207h0M398 228h0M515 207h0M539 205h0M502 214h0M516 210h0M521 210h0M501 207h0M492 212h0M531 207h0M484 215h0M498 209h0M525 205h0M448 180h0M455 190h0M415 191h0M487 189h0M456 196h0M485 192h0M513 201h0M449 196h0M550 189h0M433 190h0M419 184h0M430 194h0M557 197h0M418 204h0M412 198h0M433 195h0M383 200h0M414 174h0M456 194h0M449 200h0M493 199h0M407 190h0M461 183h0M443 182h0M399 185h0M400 188h0M410 183h0M406 179h0M455 187h0M386 202h0M487 201h0M403 194h0M389 190h0M404 193h0M459 201h0M479 200h0M510 198h0M433 199h0M414 206h0M431 195h0M423 184h0M467 192h0M387 189h0M414 177h0M403 194h0M456 192h0M442 196h0M476 176h0M540 196h0M474 191h0M453 191h0M414 188h0M390 194h0M458 195h0M385 201h0M463 199h0M385 172h0M395 189h0M464 195h0M410 174h0M403 201h0M465 193h0M473 184h0M403 204h0M473 172h0M397 180h0M397 186h0M552 182h0M443 195h0M466 198h0M424 187h0M392 200h0M460 185h0M390 187h0M383 197h0M422 201h0M435 190h0M479 185h0M401 190h0M465 201h0M446 187h0M397 182h0M404 188h0M456 185h0M439 204h0M484 192h0M402 201h0M390 199h0M475 175h0M540 191h0M431 179h0M390 179h0M480 196h0M413 196h0M393 179h0M389 176h0M448 200h0M426 193h0M461 181h0M434 201h0M403 191h0M393 202h0M389 186h0M388 181h0M417 201h0M411 190h0M512 196h0M429 195h0M427 183h0M416 194h0M398 199h0M408 174h0M450 200h0M461 187h0M534 189h0M415 178h0M420 188h0M474 191h0M483 185h0M486 202h0M410 183h0M415 202h0M405 186h0M425 201h0M402 205h0M447 175h0M398 195h0M457 191h0M516 191h0M500 200h0M430 195h0M393 188h0M386 198h0M421 184h0M407 186h0M425 191h0M399 193h0M393 184h0M417 201h0M419 202h0M439 184h0M422 181h0M388 191h0M425 201h0M468 192h0M407 193h0M521 191h0M441 168h0M458 193h0M466 196h0M418 199h0M565 187h0M439 204h0M447 190h0M495 181h0M466 198h0M455 191h0M555 178h0M554 190h0M411 186h0M438 189h0M438 189h0M524 193h0M406 194h0M396 199h0M442 191h0M401 201h0M449 199h0M413 194h0M477 178h0M407 202h0M557 168h0M469 186h0M390 195h0M422 177h0M387 203h0M386 188h0M538 175h0M485 183h0M467 189h0M433 193h0M430 198h0M548 172h0M459 181h0M464 184h0M438 177h0M426 177h0M434 192h0M423 190h0M541 197h0M470 206h0M433 180h0M429 199h0M390 176h0M415 184h0M389 182h0M559 201h0M466 199h0M394 201h0M442 193h0M503 196h0M505 197h0M464 186h0M449 201h0M428 187h0M558 173h0M384 193h0M390 193h0M514 194h0M406 195h0M390 201h0M418 196h0M494 200h0M445 197h0M463 194h0M387 199h0M428 202h0M467 182h0M484 201h0M428 189h0M462 196h0M442 204h0M443 194h0M529 203h0M395 195h0M430 188h0M469 184h0M407 200h0M413 201h0M439 198h0M444 190h0M468 201h0M486 188h0M413 202h0M521 165h0M410 202h0M421 191h0M506 201h0M505 186h0M416 183h0M413 199h0M418 193h0M394 188h0M446 189h0M401 183h0M433 198h0M445 191h0M425 203h0M520 202h0M512 198h0M492 191h0M517 194h0M407 184h0M564 191h0M410 197h0M440 196h0M426 190h0M405 182h0M417 193h0M399 179h0M415 193h0M399 197h0M388 173h0M464 202h0M386 191h0M435 192h0M384 197h0M402 202h0M497 202h0M466 195h0M477 193h0M433 197h0M415 200h0M438 190h0M459 201h0M408 179h0M543 166h0M460 181h0M401 203h0M531 189h0M433 181h0M396 197h0M486 206h0M397 179h0M446 194h0M412 195h0M538 193h0M454 186h0M412 203h0M441 180h0M420 199h0M406 189h0M415 194h0M456 200h0M437 195h0M425 199h0M501 187h0M432 191h0M484 195h0M464 193h0M504 199h0M415 196h0M514 198h0M383 190h0M476 198h0M387 194h0M486 185h0M525 199h0M489 204h0M458 187h0M390 189h0M463 193h0M401 186h0M390 193h0M470 197h0M429 192h0M493 176h0M406 186h0M392 196h0M428 194h0M406 199h0M412 193h0M407 185h0M405 196h0M405 182h0M458 180h0M484 196h0M496 185h0M398 202h0M449 196h0M403 192h0M395 186h0M408 194h0M397 186h0M412 196h0M407 193h0M421 184h0M404 186h0M437 201h0M428 196h0M479 199h0M494 201h0M514 192h0M423 195h0M429 175h0M384 200h0M396 180h0M425 185h0M512 200h0M395 196h0M389 188h0M426 180h0M536 173h0M473 200h0M467 186h0M383 186h0M530 163h0M417 193h0M520 196h0M431 202h0M457 203h0M431 185h0M440 179h0M546 187h0M435 187h0M422 198h0M408 189h0M508 193h0M456 188h0M395 188h0M450 189h0M384 198h0M479 189h0M418 197h0M466 188h0M433 195h0M402 191h0M420 198h0M430 192h0M381 203h0M524 193h0M431 192h0M384 197h0M430 187h0M418 202h0M396 199h0M446 182h0M444 184h0M387 198h0M443 184h0M389 201h0M435 178h0M405 196h0M551 188h0M412 198h0M393 199h0M472 205h0M391 197h0M462 183h0M500 184h0M435 192h0M406 178h0M406 197h0M395 199h0M396 204h0M432 201h0M418 181h0M406 185h0M466 193h0M485 190h0M436 184h0M456 198h0M463 195h0M439 187h0M407 193h0M417 198h0M388 202h0M393 194h0M394 175h0M409 174h0M514 186h0M454 203h0M409 189h0M475 199h0M523 203h0M415 191h0M426 195h0M387 196h0M397 184h0M481 200h0M456 196h0M509 185h0M425 185h0M405 185h0M537 168h0M401 191h0M452 197h0M473 195h0M394 191h0M469 186h0M489 198h0M398 175h0M400 185h0M431 178h0M387 188h0M436 200h0M443 193h0M412 196h0M541 191h0M438 189h0M395 178h0M413 202h0M522 193h0M422 191h0M390 199h0M435 189h0M395 189h0M462 207h0M457 198h0M505 196h0M385 177h0M468 196h0M430 189h0M424 189h0M454 197h0M488 197h0M429 201h0M481 205h0M407 188h0M388 173h0M451 197h0M435 175h0M413 197h0M388 184h0M467 196h0M408 190h0M433 179h0M478 203h0M504 179h0M493 195h0M401 193h0M493 175h0M388 189h0M467 200h0M392 202h0M468 176h0M398 204h0M432 191h0M394 195h0M416 180h0M432 196h0M429 198h0M449 190h0M511 189h0M465 198h0M449 185h0M385 191h0M421 193h0M478 203h0M444 200h0M467 188h0M433 208h0M487 190h0M558 188h0M519 183h0M423 198h0M435 186h0M390 202h0M430 200h0M429 205h0M432 192h0M394 201h0M476 190h0M498 194h0M516 198h0M447 177h0M520 192h0M465 191h0M439 196h0M429 191h0M465 169h0M393 199h0M456 203h0M397 194h0M395 200h0M400 199h0M406 189h0M384 196h0M431 202h0M493 174h0M506 192h0M501 192h0M415 203h0M444 200h0M408 196h0M387 195h0M455 200h0M415 190h0M387 198h0M486 195h0M489 178h0M426 178h0M488 188h0M388 189h0M447 177h0M553 180h0M521 181h0M415 200h0M461 174h0M417 192h0M445 189h0M400 187h0M410 175h0M458 182h0M401 193h0M479 194h0M389 193h0M395 204h0M381 172h0M452 197h0M470 201h0M393 201h0M472 188h0M524 201h0M388 198h0M481 202h0M403 201h0M422 194h0M426 175h0M431 199h0M435 186h0M422 194h0M400 172h0M401 177h0M474 202h0M408 203h0M397 188h0M530 191h0M392 178h0M408 173h0M454 174h0M425 200h0M477 182h0M406 177h0M521 193h0M453 183h0M475 203h0M397 204h0M428 187h0M566 194h0M418 196h0M466 175h0M403 198h0M451 204h0M430 187h0M567 199h0M451 180h0M414 172h0M465 191h0M433 194h0M394 195h0M515 178h0M424 177h0M445 185h0M458 178h0M437 181h0M463 198h0M395 198h0M441 203h0M394 190h0M486 200h0M485 198h0M509 180h0M474 196h0M404 201h0M392 174h0M390 190h0M388 191h0M415 197h0M483 188h0M551 175h0M476 190h0M397 178h0M421 196h0M425 199h0M483 179h0M411 172h0M437 190h0M406 193h0M438 199h0M423 188h0M424 181h0M487 203h0M411 184h0M423 198h0M478 178h0M388 202h0M472 178h0M484 180h0M412 200h0M528 191h0M436 197h0M402 182h0M462 206h0M464 191h0M390 197h0M415 198h0M419 191h0M467 192h0M452 170h0M424 179h0M404 197h0M386 193h0M438 187h0M451 191h0M416 195h0M503 190h0M455 200h0M481 179h0M403 204h0M421 199h0M400 185h0M401 198h0M390 204h0M453 189h0M435 179h0M458 189h0M446 193h0M413 202h0M396 193h0M398 196h0M388 199h0M416 189h0M485 202h0M427 181h0M417 193h0M421 180h0M419 193h0M415 196h0M417 202h0M451 200h0M387 198h0M426 193h0M496 188h0M476 197h0M499 201h0M506 183h0M514 178h0M417 192h0M522 190h0M537 198h0M514 197h0M481 200h0M405 204h0M427 201h0M471 183h0M447 187h0M456 199h0M431 203h0M470 184h0M532 202h0M400 183h0M415 205h0M543 188h0M431 203h0M548 185h0M560 201h0M521 191h0M428 189h0M398 197h0M444 184h0M439 205h0M447 205h0M504 172h0M419 200h0M451 185h0M491 189h0M565 178h0M513 198h0M475 198h0M531 196h0M395 192h0M460 203h0M422 174h0M450 189h0M439 194h0M514 195h0M497 191h0M508 196h0M466 185h0M418 194h0M426 190h0M483 203h0M432 203h0M467 167h0M439 184h0M399 200h0M535 202h0M403 174h0M549 178h0M494 204h0M416 194h0M464 192h0M557 191h0M558 173h0M399 202h0M542 188h0M390 192h0M551 187h0M474 182h0M456 191h0M446 181h0M515 192h0M514 183h0M449 199h0M518 198h0M387 204h0M426 193h0M402 194h0M412 188h0M438 173h0M417 199h0M482 199h0M556 195h0M528 201h0M534 181h0M412 179h0M400 188h0M505 184h0M459 199h0M420 197h0M398 185h0M441 192h0M470 196h0M387 194h0M461 205h0M414 203h0M544 168h0M518 204h0M425 177h0M411 183h0M531 199h0M529 198h0M568 179h0M407 202h0M488 193h0M537 193h0M436 200h0M438 188h0M447 191h0M504 174h0M397 200h0M522 178h0M412 202h0M434 180h0M465 194h0M392 203h0M448 181h0M556 182h0M564 189h0M439 170h0M483 189h0M538 181h0M383 186h0M462 188h0M483 197h0M497 200h0M424 186h0M567 199h0M397 205h0M531 192h0M487 202h0M567 196h0M490 183h0M454 202h0M564 179h0M493 200h0M496 202h0M534 186h0M446 167h0M496 202h0M528 193h0M425 188h0M430 195h0M523 204h0M515 194h0M504 198h0M408 200h0M567 203h0M550 190h0M484 196h0M407 189h0M465 194h0M554 203h0M509 190h0M414 199h0M561 202h0M507 196h0M526 191h0M404 190h0M495 174h0M534 189h0M414 188h0M433 187h0M548 188h0M483 187h0M528 198h0M530 193h0M478 198h0M461 177h0M521 198h0M452 188h0M509 184h0M402 195h0M526 197h0M538 193h0M536 178h0M421 188h0M390 187h0M550 192h0M429 195h0M386 194h0M429 201h0M461 195h0M418 181h0M556 201h0M397 184h0M437 198h0M424 197h0M484 183h0M400 179h0M486 192h0M413 204h0M524 205h0M454 195h0M450 181h0M549 189h0M413 203h0M477 189h0M516 175h0M476 193h0M401 186h0M563 201h0M521 180h0M450 194h0M434 191h0M480 193h0M398 183h0M530 196h0M563 203h0M440 190h0M558 188h0M462 201h0M471 198h0M503 197h0M391 200h0M422 188h0M490 182h0M451 189h0M481 181h0M418 176h0M562 203h0M462 197h0M427 186h0M392 192h0M491 182h0M459 208h0M510 203h0M510 188h0M393 201h0M485 151h0M402 168h0M389 161h0M558 155h0M491 146h0M417 161h0M477 152h0M427 140h0M525 142h0M561 148h0M394 164h0M473 152h0M437 164h0M526 158h0M476 159h0M392 161h0M555 150h0M559 152h0M450 161h0M454 152h0M544 156h0M506 148h0M491 163h0M551 164h0M551 140h0M556 155h0M557 148h0M421 156h0M539 142h0M390 162h0M552 147h0M387 160h0M438 151h0M371 213h0M364 259h0M374 209h0M367 252h0M373 213h0M360 202h0M370 251h0M381 229h0M378 240h0M376 229h0M362 255h0M374 254h0M363 227h0M378 254h0M377 252h0M369 260h0M365 200h0M383 229h0M363 230h0M375 194h0M376 257h0M379 206h0M376 208h0M375 254h0M365 252h0M381 235h0M373 236h0M363 250h0M371 221h0M367 211h0M384 227h0M366 255h0M373 223h0M371 233h0M361 224h0M370 219h0M374 197h0M381 246h0M372 256h0M376 256h0M378 224h0M383 213h0M372 244h0M363 235h0M362 224h0M372 247h0M378 233h0M374 203h0M370 225h0M364 242h0M361 260h0M382 217h0M371 221h0M374 227h0M378 230h0M361 216h0M376 224h0M374 229h0M372 236h0M369 260h0M371 257h0M379 235h0M372 248h0M371 201h0M385 204h0M367 243h0M361 259h0M365 249h0M370 250h0M369 226h0M378 228h0M360 219h0M369 214h0M367 203h0M369 238h0M369 227h0M365 235h0M362 237h0M369 206h0M380 201h0M372 229h0M371 205h0M366 236h0M373 249h0M373 234h0M367 211h0M363 209h0M365 213h0M380 243h0M373 209h0M376 200h0M379 237h0M364 205h0M368 223h0M380 206h0M364 245h0M370 246h0M370 240h0M361 221h0M368 231h0M371 246h0M362 258h0M365 225h0M372 261h0M382 237h0M368 217h0M361 244h0M365 256h0M368 254h0M380 242h0M380 244h0M369 221h0M380 237h0M378 237h0M378 224h0M382 209h0M363 209h0M376 242h0M382 200h0M372 240h0M375 205h0M375 224h0M366 257h0M361 231h0M374 226h0M377 225h0M371 201h0M369 250h0M360 204h0M371 243h0M364 219h0M361 212h0M374 215h0M372 200h0M369 249h0M365 255h0M359 221h0M381 219h0M371 220h0M361 242h0M375 259h0M380 251h0M376 247h0M374 215h0M370 222h0M367 222h0M363 249h0M363 259h0M375 227h0M380 207h0M376 228h0M376 242h0M362 209h0M377 245h0M362 200h0M364 199h0M383 217h0M370 258h0M368 247h0M377 241h0M375 197h0M370 244h0M374 242h0M372 246h0M375 213h0M360 248h0M376 219h0M361 212h0M365 242h0M369 198h0M378 250h0M371 214h0M376 237h0M374 249h0M377 238h0M378 235h0M368 240h0M377 250h0M362 225h0M367 230h0M367 202h0M368 249h0M363 213h0M363 239h0M363 260h0M376 257h0M369 255h0M369 197h0M364 254h0M375 238h0M368 212h0M362 225h0M366 262h0M360 230h0M369 255h0M375 204h0M379 229h0M382 200h0M367 209h0M368 211h0M363 202h0M372 254h0M377 202h0M374 239h0M378 207h0M366 245h0M365 214h0M369 207h0M373 236h0M366 237h0M381 236h0M371 250h0M363 249h0M359 235h0M365 195h0M371 220h0M373 220h0M373 230h0M364 250h0M367 239h0M370 245h0M362 204h0M367 258h0M374 221h0M369 234h0M378 249h0M360 241h0M363 258h0M371 232h0M377 237h0M378 234h0M366 224h0M379 252h0M372 225h0M375 252h0M367 228h0M366 223h0M359 213h0M365 228h0M372 224h0M371 217h0M376 221h0M369 239h0M364 248h0M364 250h0M383 232h0M379 235h0M374 235h0M382 246h0M378 247h0M358 213h0M368 257h0M376 225h0M381 243h0M377 247h0M381 253h0M370 243h0M365 261h0M373 231h0M375 260h0M379 232h0M364 219h0M364 254h0M374 203h0M368 261h0M361 217h0M372 211h0M373 203h0M363 257h0M382 228h0M366 219h0M376 219h0M365 215h0M364 240h0M374 236h0M381 208h0M371 218h0M368 237h0M363 224h0M361 254h0M378 211h0M364 213h0M364 224h0M373 226h0M375 255h0M382 211h0M367 205h0M371 234h0M370 208h0M375 248h0M376 242h0M379 217h0M365 246h0M371 201h0M362 203h0M376 246h0M361 226h0M374 236h0M367 216h0M361 237h0M382 199h0M383 200h0M369 227h0M370 227h0M373 199h0M378 223h0M367 196h0M370 223h0M369 246h0M367 204h0M361 243h0M375 223h0M357 167h0M356 190h0M360 187h0M363 244h0M358 205h0M361 217h0M358 233h0M358 258h0M362 173h0M359 200h0M358 170h0M359 229h0M358 206h0M357 205h0M357 226h0M359 260h0M359 170h0M356 245h0M358 209h0M356 196h0M358 235h0M359 190h0M356 258h0M357 254h0M356 198h0M360 228h0M357 184h0M358 190h0M361 179h0M360 172h0M359 166h0M357 257h0M359 247h0M358 224h0M361 200h0M359 244h0M361 199h0M360 250h0M358 233h0M357 188h0M356 173h0M357 214h0M360 259h0M357 234h0M358 215h0M358 244h0M356 200h0M357 238h0M361 201h0M358 240h0M360 199h0M357 250h0M359 227h0M357 211h0M359 227h0M357 180h0M359 195h0M360 235h0M358 218h0M362 257h0M360 242h0M360 183h0M359 198h0M356 218h0M360 201h0M361 166h0M360 205h0M359 189h0M358 210h0M356 208h0M357 214h0M360 182h0M358 241h0M357 252h0M359 218h0M357 211h0M358 220h0M360 196h0M357 235h0M357 167h0M358 231h0M360 205h0M359 175h0M359 224h0M359 207h0M358 210h0M358 195h0M360 223h0M360 203h0M359 212h0M360 260h0M357 171h0M358 228h0M356 252h0M359 262h0M357 216h0M360 217h0M358 234h0M360 193h0M359 246h0M356 231h0M357 169h0M361 241h0M358 171h0M357 246h0M358 191h0M356 216h0M360 213h0M358 234h0M357 211h0M361 188h0M375 180h0M368 166h0M373 161h0M364 188h0M371 157h0M372 188h0M370 183h0M365 178h0M370 168h0M374 158h0M368 164h0M377 175h0M378 171h0M370 179h0M377 172h0M369 159h0M375 176h0M364 191h0M370 175h0M363 166h0M371 165h0M373 195h0M376 156h0M367 175h0M359 180h0M375 194h0M377 183h0M365 165h0M376 156h0M363 159h0M373 176h0M376 184h0M365 183h0M368 183h0M374 172h0M360 174h0M362 159h0M373 139h0M358 124h0M372 155h0M365 142h0M380 153h0M383 145h0M364 128h0M360 158h0M376 140h0M381 137h0M378 153h0M379 160h0M377 120h0M379 159h0" stroke="#e82a5a" stroke-opacity="1.0" stroke-width="3" stroke-linecap="square" fill="none"/>
<path transform="scale(.5)" d="M159 434h0M163 411h0M172 415h0M186 416h0M157 415h0M199 416h0M175 429h0M170 413h0M170 411h0M138 423h0M149 435h0M209 429h0M161 420h0M168 424h0M227 423h0M213 411h0M165 423h0M184 426h0M157 415h0M150 429h0M195 433h0M120 426h0M129 417h0M179 426h0M225 410h0M245 434h0M197 429h0M233 429h0M169 417h0M233 408h0M134 435h0M170 407h0M272 407h0M211 421h0M163 430h0M163 419h0M211 436h0M175 421h0M245 413h0M132 415h0M134 412h0M190 419h0M200 406h0M246 436h0M152 427h0M207 427h0M153 411h0M189 406h0M167 428h0M199 409h0M146 430h0M191 434h0M172 432h0M128 429h0M187 427h0M160 414h0M197 413h0M193 408h0M124 429h0M174 433h0M212 413h0M196 417h0M161 438h0M180 431h0M223 416h0M165 429h0M173 411h0M187 426h0M232 418h0M214 408h0M256 423h0M151 419h0M219 409h0M240 435h0M150 430h0M205 413h0M203 415h0M136 427h0M174 431h0M169 413h0M151 412h0M142 422h0M186 419h0M175 419h0M181 434h0M167 414h0M186 420h0M140 431h0M190 407h0M182 424h0M195 423h0M185 413h0M121 431h0M138 423h0M249 435h0M217 428h0M206 430h0M150 415h0M204 427h0M184 423h0M176 430h0M184 432h0M226 431h0M206 408h0M147 425h0M233 429h0M270 424h0M127 418h0M220 417h0M228 405h0M160 418h0M221 421h0M204 417h0M139 417h0M132 422h0M128 425h0M175 414h0M156 426h0M193 433h0M153 429h0M188 434h0M153 432h0M121 426h0M203 413h0M171 435h0M139 426h0M156 422h0M237 415h0M221 420h0M162 430h0M202 417h0M154 432h0M155 430h0M222 419h0M154 428h0M230 408h0M214 433h0M206 428h0M187 436h0M183 416h0M200 404h0M158 421h0M180 407h0M146 425h0M173 416h0M159 423h0M179 409h0M229 422h0M187 424h0M159 427h0M211 427h0M147 433h0M218 431h0M149 435h0M124 425h0M191 431h0M195 420h0M179 430h0M214 402h0M175 423h0M184 419h0M216 410h0M293 429h0M191 418h0M269 403h0M182 420h0M228 432h0M198 439h0M177 431h0M171 434h0M237 430h0M213 436h0M247 422h0M193 414h0M247 414h0M123 433h0M127 423h0M130 428h0M166 426h0M218 431h0M186 431h0M187 406h0M182 424h0M145 432h0M183 428h0M178 430h0M201 411h0M149 426h0M174 428h0M251 431h0M152 413h0M206 409h0M186 419h0M254 416h0M205 422h0M193 413h0M193 409h0M160 427h0M208 431h0M247 412h0M152 412h0M116 431h0M155 414h0M164 422h0M163 422h0M192 437h0M176 422h0M228 403h0M155 419h0M134 425h0M142 439h0M168 435h0M178 429h0M156 429h0M180 419h0M140 420h0M127 423h0M199 428h0M147 423h0M185 423h0M125 432h0M263 397h0M209 424h0M197 431h0M212 405h0M177 434h0M266 419h0M124 418h0M200 429h0M178 435h0M200 418h0M175 420h0M220 418h0M193 422h0M156 433h0M218 427h0M138 427h0M179 424h0M195 416h0M162 417h0M182 417h0M239 408h0M239 436h0M183 409h0M167 418h0M183 425h0M211 434h0M223 403h0M165 417h0M141 424h0M181 429h0M180 433h0M177 416h0M115 423h0M215 406h0M175 428h0M202 434h0M157 429h0M136 424h0M180 407h0M215 429h0M197 428h0M192 405h0M171 425h0M157 424h0M227 436h0M201 433h0M225 428h0M167 424h0M146 421h0M145 433h0M187 432h0M166 425h0M170 427h0M205 435h0M215 422h0M162 425h0M165 420h0M221 427h0M165 418h0M172 422h0M161 430h0M201 410h0M173 422h0M192 414h0M144 434h0M210 417h0M123 433h0M164 410h0M180 423h0M209 432h0M188 437h0M186 413h0M183 415h0M191 419h0M192 426h0M132 433h0M171 428h0M160 431h0M157 426h0M177 439h0M171 415h0M115 423h0M162 417h0M218 417h0M199 420h0M147 428h0M189 436h0M114 427h0M178 411h0M239 418h0M131 432h0M186 406h0M167 410h0M150 416h0M141 433h0M155 415h0M219 405h0M189 414h0M253 433h0M228 410h0M176 427h0M202 435h0M172 426h0M152 420h0M214 433h0M141 424h0M187 423h0M157 430h0M214 433h0M191 433h0M186 415h0M288 401h0M207 435h0M221 406h0M195 409h0M240 401h0M152 434h0M147 434h0M154 413h0M125 420h0M222 420h0M142 432h0M139 432h0M226 415h0M195 418h0M143 415h0M164 434h0M178 417h0M219 413h0M190 418h0M136 431h0M163 425h0M148 434h0M244 409h0M151 410h0M211 426h0M178 432h0M139 430h0M202 426h0M171 409h0M189 423h0M110 430h0M191 408h0M213 407h0M175 420h0M207 404h0M155 410h0M152 423h0M150 419h0M192 410h0M147 433h0M217 405h0M182 424h0M207 407h0M136 423h0M230 425h0M186 421h0M163 420h0M164 414h0M206 432h0M129 421h0M163 410h0M140 419h0M169 419h0M238 437h0M164 416h0M246 413h0M256 408h0M228 429h0M231 435h0M225 436h0M170 416h0M231 413h0M218 432h0M185 412h0M130 423h0M202 429h0M188 436h0M227 402h0M163 430h0M209 425h0M162 433h0M114 423h0M141 417h0M194 428h0M261 434h0M184 410h0M127 427h0M168 434h0M140 428h0M272 395h0M162 422h0M173 434h0M149 416h0M129 429h0M183 438h0M168 409h0M167 414h0M153 426h0M238 421h0M139 428h0M153 423h0M244 399h0M185 424h0M144 430h0M137 428h0M148 414h0M159 426h0M170 423h0M241 406h0M175 421h0M202 436h0M200 422h0M158 421h0M139 431h0M186 406h0M203 429h0M163 421h0M161 430h0M169 429h0M170 423h0M164 412h0M241 406h0M171 412h0M235 407h0M207 424h0M176 418h0M147 426h0M260 409h0M138 428h0M188 418h0M215 432h0M225 429h0M236 406h0M159 424h0M195 426h0M181 411h0M166 430h0M189 413h0M150 423h0M232 406h0M240 420h0M168 418h0M231 424h0M122 428h0M271 416h0M121 419h0M136 430h0M197 422h0M177 435h0M144 420h0M150 424h0M152 437h0M189 433h0M122 419h0M215 431h0M229 423h0M196 422h0M172 428h0M197 426h0M213 424h0M169 414h0M266 418h0M169 424h0M136 430h0M191 431h0M218 424h0M158 420h0M195 406h0M183 427h0M166 415h0M155 432h0M187 416h0M164 424h0M188 420h0M155 414h0M159 416h0M168 429h0M234 409h0M153 423h0M191 411h0M156 414h0M165 422h0M182 429h0M179 432h0M200 435h0M147 419h0M173 430h0M138 416h0M201 422h0M139 430h0M189 421h0M232 423h0M172 419h0M108 426h0M211 410h0M162 427h0M143 436h0M122 436h0M137 412h0M155 435h0M156 418h0M228 417h0M162 426h0M170 432h0M145 420h0M257 430h0M248 434h0M242 434h0M157 428h0M196 437h0M201 411h0M239 420h0M170 426h0M195 410h0M284 414h0M178 423h0M234 427h0M181 423h0M122 417h0M247 416h0M221 425h0M166 432h0M182 417h0M174 418h0M115 418h0M240 434h0M181 427h0M204 418h0M160 422h0M169 428h0M162 421h0M230 431h0M161 433h0M158 428h0M168 413h0M161 425h0M179 423h0M202 411h0M174 432h0M225 419h0M241 433h0M210 424h0M139 429h0M211 429h0M152 430h0M155 420h0M201 425h0M219 405h0M152 426h0M126 425h0M138 423h0M219 419h0M187 406h0M145 431h0M216 415h0M189 407h0M145 423h0M188 415h0M225 436h0M120 427h0M198 431h0M166 430h0M160 422h0M163 416h0M165 427h0M171 421h0M159 412h0M120 434h0M234 424h0M218 429h0M155 431h0M130 421h0M223 426h0M223 415h0M150 425h0M174 420h0M190 431h0M147 435h0M211 432h0M159 415h0M109 430h0M165 421h0M157 430h0M145 417h0M194 414h0M154 425h0M204 422h0M179 427h0M121 416h0M153 421h0M171 422h0M205 422h0M223 428h0M158 410h0M181 436h0M183 413h0M121 424h0M141 413h0M205 417h0M222 421h0M178 405h0M157 435h0M189 428h0M142 423h0M244 420h0M108 419h0M180 425h0M219 407h0M154 412h0M147 416h0M176 429h0M216 407h0M172 429h0M189 416h0M202 421h0M186 426h0M199 412h0M190 420h0M198 420h0M136 419h0M143 430h0M138 431h0M255 424h0M165 429h0M219 425h0M192 409h0M156 429h0M219 415h0M136 430h0M237 407h0M243 412h0M275 400h0M173 422h0M309 397h0M286 409h0M132 433h0M160 434h0M125 430h0M191 412h0M177 431h0M295 403h0M229 422h0M224 412h0M247 405h0M232 424h0M259 429h0M273 412h0M313 431h0M149 413h0M134 420h0M320 431h0M117 436h0M136 414h0M314 434h0M215 405h0M158 424h0M134 421h0M201 420h0M197 420h0M183 425h0M120 431h0M182 421h0M201 409h0M299 407h0M257 414h0M314 421h0M234 415h0M279 409h0M282 417h0M241 397h0M120 435h0M195 416h0M121 425h0M260 438h0M314 412h0M320 405h0M286 435h0M274 424h0M289 423h0M209 420h0M235 421h0M233 425h0M190 416h0M187 438h0M317 424h0M285 404h0M120 420h0M147 424h0M307 437h0M276 416h0M202 418h0M195 409h0M178 410h0M119 419h0M279 410h0M161 431h0M150 426h0M314 404h0M223 414h0M205 432h0M148 413h0M276 433h0M169 425h0M291 403h0M185 421h0M178 422h0M189 430h0M218 411h0M213 406h0M194 426h0M240 435h0M314 417h0M190 418h0M239 419h0M300 392h0M186 429h0M128 422h0M112 426h0M317 405h0M165 409h0M258 430h0M276 418h0M125 435h0M123 418h0M257 424h0M198 421h0M183 424h0M126 436h0M292 414h0M216 409h0M208 430h0M294 418h0M279 424h0M199 422h0M178 432h0M172 423h0M219 428h0M169 416h0M167 423h0M130 437h0M181 433h0M287 430h0M131 415h0M248 411h0M307 406h0M128 414h0M268 418h0M164 412h0M243 409h0M260 382h0M205 384h0M248 382h0M156 388h0M159 394h0M227 397h0M209 398h0M144 395h0M137 396h0M157 389h0M184 394h0M196 380h0M198 394h0M171 398h0M163 387h0M122 402h0M265 392h0M249 391h0M303 387h0M198 388h0M286 387h0M193 388h0M297 377h0M148 396h0M146 389h0M117 361h0M109 385h0M137 374h0M110 467h0M110 485h0M113 468h0M110 472h0M112 446h0M109 491h0M112 476h0M112 445h0M109 451h0M112 442h0M113 437h0M110 467h0M112 439h0M108 461h0M110 485h0M110 463h0M108 473h0M111 447h0M112 467h0M111 452h0M112 448h0M108 492h0M112 469h0M112 474h0M112 477h0M112 437h0M110 456h0M113 460h0M108 488h0M110 455h0M113 436h0M113 448h0M110 437h0M110 460h0M108 461h0M110 493h0M112 488h0M111 465h0M110 477h0M113 456h0M112 469h0M110 481h0M110 466h0M111 466h0M113 486h0M111 479h0M112 473h0M113 461h0M112 490h0M112 488h0M109 466h0M110 447h0M112 462h0M110 483h0M112 436h0M111 472h0M112 458h0M112 490h0M108 456h0M109 455h0M108 481h0M109 478h0M109 488h0M112 486h0M110 439h0M110 472h0M112 485h0M110 487h0M112 445h0M110 476h0M110 454h0M110 455h0M109 462h0M110 451h0M108 475h0M109 476h0M112 443h0M109 447h0M109 494h0M109 463h0M112 461h0M109 449h0M112 438h0M110 481h0M109 452h0M109 443h0M112 487h0M110 469h0M111 452h0M108 485h0M111 491h0M110 443h0M109 475h0M109 486h0M110 457h0M112 449h0M110 461h0M110 450h0M111 485h0M112 441h0M109 464h0M112 449h0M111 452h0M111 468h0M115 470h0M110 493h0M113 489h0M110 473h0M108 484h0M108 484h0M108 451h0M112 446h0M110 466h0M130 458h0M133 438h0M130 440h0M135 478h0M130 436h0M131 445h0M135 468h0M128 473h0M129 454h0M136 469h0M129 463h0M130 463h0M131 472h0M127 475h0M117 446h0M126 466h0M131 469h0M136 465h0M128 457h0M118 445h0M130 479h0M123 450h0M122 447h0M121 441h0M135 452h0M119 451h0M128 447h0M122 453h0M132 443h0M129 470h0M117 442h0M134 467h0M125 441h0M134 474h0M127 447h0M121 447h0M125 455h0M127 453h0M125 464h0M136 461h0M119 453h0M135 464h0M132 443h0M131 459h0M127 465h0M131 473h0M123 465h0M129 467h0M134 443h0M128 442h0M137 441h0M133 437h0M124 467h0M130 447h0M134 456h0M129 456h0M124 457h0M128 479h0M128 471h0M123 462h0M130 465h0M128 448h0M134 484h0M132 471h0M131 471h0M136 470h0M124 473h0M133 456h0M128 465h0M128 454h0M129 449h0M133 458h0M135 473h0M128 473h0M125 455h0M131 477h0M121 463h0M124 461h0M132 480h0M123 467h0M135 449h0M127 442h0M130 476h0M133 443h0M123 468h0M129 457h0M133 465h0M128 481h0M131 465h0M119 446h0M124 443h0M122 457h0M117 456h0M125 454h0M133 441h0M131 444h0M129 479h0M127 458h0M121 449h0M120 459h0M122 440h0M130 460h0M127 479h0M125 467h0M123 437h0M126 480h0M132 465h0M129 478h0M131 472h0M132 435h0M126 482h0M123 438h0M120 456h0M128 458h0M130 474h0M136 472h0M128 464h0M132 439h0M119 445h0M137 450h0M125 455h0M131 437h0M121 438h0M138 469h0M136 464h0M126 480h0M132 474h0M124 447h0M131 476h0M118 448h0M133 438h0M120 456h0M125 456h0M128 454h0M128 462h0M125 444h0M126 446h0M117 450h0M135 460h0M120 446h0M118 442h0M124 483h0M138 453h0M133 455h0M128 464h0M132 471h0M130 443h0M129 467h0M129 449h0M123 461h0M122 446h0M136 472h0M129 461h0M133 466h0M135 444h0M135 462h0M131 454h0M120 441h0M128 454h0M128 457h0M133 456h0M124 460h0M132 468h0M124 443h0M131 461h0M134 451h0M122 448h0M120 441h0M135 463h0M128 452h0M135 455h0M127 476h0M136 444h0M132 468h0M129 459h0M134 460h0M131 436h0M132 465h0M135 458h0M133 443h0M135 448h0M128 443h0M133 470h0M130 477h0M118 451h0M128 483h0M132 481h0M118 436h0M117 446h0M119 445h0M121 465h0M120 443h0M126 455h0M127 462h0M124 470h0M131 451h0M126 451h0M136 440h0M121 442h0M126 451h0M124 453h0M137 471h0M135 441h0M137 442h0M120 440h0M131 447h0M129 469h0M122 460h0M126 466h0M133 465h0M136 448h0M130 448h0M120 461h0M129 436h0M119 445h0M131 468h0M134 483h0M124 457h0M133 461h0M128 439h0M136 452h0M118 448h0M122 438h0M131 476h0M121 439h0M131 445h0M123 440h0M124 468h0M134 443h0M126 438h0M129 475h0M128 445h0M130 462h0M123 457h0M122 456h0M132 469h0M124 450h0M132 468h0M134 467h0M134 477h0M133 456h0M123 466h0M120 446h0M118 436h0M117 440h0M130 454h0M130 441h0M123 467h0M130 444h0M125 445h0M124 449h0M123 474h0M124 437h0M135 447h0M122 439h0M124 472h0M126 460h0M132 463h0M127 472h0M128 464h0M136 475h0M134 484h0M129 456h0M130 475h0M133 450h0M123 448h0M136 468h0M124 468h0M119 461h0M125 476h0M120 459h0M131 444h0M124 449h0M124 451h0M129 448h0M137 450h0M129 479h0M125 474h0M127 441h0M134 478h0M124 453h0M137 457h0M122 459h0M122 462h0M123 469h0M126 477h0M121 448h0M124 460h0M127 451h0M121 463h0M121 445h0M133 478h0M134 466h0M132 443h0M119 445h0M125 461h0M126 479h0M130 468h0M125 467h0M125 442h0M134 461h0M133 450h0M124 471h0M128 479h0M135 441h0M126 448h0M132 445h0M129 438h0M118 443h0M124 440h0M122 447h0M127 453h0M132 458h0M117 444h0M123 466h0M127 470h0M122 441h0M125 460h0M128 470h0M132 463h0M131 441h0M130 482h0M132 454h0M132 443h0M131 479h0M127 455h0M124 449h0M124 463h0M135 473h0M126 446h0M127 472h0M124 466h0M127 444h0M110 481h0M121 461h0M118 460h0M113 459h0M119 438h0M116 438h0M112 477h0M116 467h0M112 454h0M113 462h0M119 473h0M121 467h0M114 450h0M121 470h0M115 448h0M118 450h0M123 471h0M112 475h0M116 454h0M113 453h0M112 477h0M112 455h0M116 448h0M116 468h0M113 445h0M112 452h0M114 444h0M120 447h0M121 465h0M114 445h0M114 451h0M113 446h0M115 455h0M119 451h0M143 459h0M141 447h0M145 453h0M148 455h0M151 452h0M143 450h0M156 446h0M143 446h0M148 436h0M149 444h0M157 436h0M151 442h0M141 454h0M143 443h0M137 456h0M150 453h0M147 456h0M143 458h0M140 448h0M146 449h0M137 463h0M162 438h0M140 449h0M144 451h0M156 448h0M140 460h0M142 446h0M159 440h0M139 443h0M151 449h0M154 444h0M139 463h0M142 445h0M139 468h0M142 453h0M147 448h0M145 446h0M146 455h0M152 449h0M153 445h0M154 451h0M144 437h0M138 439h0M140 442h0M154 450h0M156 446h0M141 441h0M160 436h0M142 437h0M137 448h0M149 459h0M140 445h0M141 457h0M140 441h0M155 450h0M154 451h0M150 448h0M155 438h0M158 438h0M148 443h0M143 448h0M153 440h0M147 438h0M139 447h0M149 439h0M154 437h0M149 450h0M154 447h0M147 439h0M148 456h0M151 443h0M147 446h0M157 445h0M146 445h0M143 453h0M140 441h0M161 443h0M152 437h0M139 467h0M151 441h0M142 453h0M152 448h0M141 450h0M149 443h0M140 437h0M149 448h0M157 447h0M160 442h0M144 462h0M140 457h0M151 442h0M144 452h0M153 437h0M147 443h0M159 446h0M161 443h0M141 450h0M159 444h0M155 443h0M155 444h0M150 446h0M155 446h0M147 440h0M159 439h0M149 438h0M141 458h0M144 450h0M142 443h0M137 450h0M146 440h0M140 452h0M154 438h0M153 450h0M148 439h0M138 451h0M145 439h0M147 453h0M144 446h0M145 447h0M141 441h0M143 461h0M138 439h0M150 449h0M144 438h0M156 439h0M142 442h0M150 442h0M150 438h0M141 444h0M142 455h0M139 463h0M142 455h0M154 438h0M144 439h0M141 458h0M155 447h0M143 460h0M144 439h0M151 450h0M159 439h0M161 436h0M160 439h0M155 451h0M142 464h0M153 440h0M153 444h0M147 444h0M143 452h0M152 443h0M140 465h0M139 472h0M147 456h0M138 461h0M157 443h0M141 463h0M145 450h0M143 451h0M139 465h0M146 455h0M135 468h0M141 438h0M142 455h0M149 443h0M150 449h0M153 442h0M139 459h0M137 442h0M161 438h0M139 449h0M147 461h0M139 465h0M142 457h0M140 459h0M158 443h0M149 441h0M142 455h0M157 446h0M143 449h0M151 452h0M143 451h0M140 445h0M147 450h0M145 447h0M145 452h0M139 472h0M153 447h0M145 437h0M139 450h0M142 442h0M137 464h0M144 438h0M149 450h0M148 448h0M139 442h0M144 442h0M156 443h0M145 457h0M160 437h0M161 437h0M153 443h0M140 441h0M139 461h0M162 440h0M149 446h0M147 459h0M138 460h0M138 464h0M149 451h0M138 448h0M142 467h0M142 469h0M144 445h0M149 447h0M155 438h0M142 459h0M156 444h0M141 440h0M157 440h0M143 457h0M146 447h0M152 442h0M149 442h0M142 448h0M159 444h0M138 450h0M138 466h0M156 449h0M151 456h0M142 460h0M161 437h0M146 450h0M143 440h0M163 437h0M143 442h0M144 440h0M145 450h0M147 457h0M144 448h0M142 469h0M143 465h0M143 449h0M143 458h0M148 457h0M153 449h0M139 461h0M146 447h0M140 466h0M144 455h0M138 458h0M147 440h0M145 439h0M145 449h0M152 439h0M141 460h0M143 444h0M138 448h0M138 453h0M139 451h0M140 445h0M142 443h0M144 446h0M137 441h0M141 455h0M142 460h0M150 455h0M152 451h0M157 444h0M148 442h0M145 450h0M142 467h0M140 462h0M143 458h0M155 445h0M141 466h0M143 459h0M153 449h0M143 457h0M154 441h0M152 442h0M140 442h0M144 442h0M148 450h0M139 465h0M138 438h0M147 452h0M139 439h0M142 456h0M142 449h0M146 456h0M151 441h0M145 439h0M151 445h0M152 447h0M159 438h0M150 452h0M139 446h0M141 442h0M141 451h0M142 441h0M155 441h0M172 454h0M172 454h0M179 447h0M169 446h0M155 439h0M156 445h0M165 452h0M153 439h0M155 443h0M183 440h0M160 440h0M161 433h0M166 448h0M159 440h0M158 436h0M174 446h0M169 446h0M164 446h0M186 441h0M177 439h0M180 455h0M170 438h0M170 455h0M176 456h0M177 445h0M167 437h0M195 439h0M320 408h0M320 403h0M320 410h0M319 381h0M319 404h0M321 408h0M320 385h0M320 395h0M321 394h0M320 393h0M320 407h0M319 389h0M320 387h0M321 406h0M320 397h0M321 395h0M319 383h0M321 392h0M321 392h0M320 392h0M321 399h0M320 396h0M320 385h0M319 399h0M320 393h0" stroke="#e82a5a" stroke-opacity="1.0" stroke-width="3" stroke-linecap="square" fill="none"/>
<path transform="scale(.5)" d="M361 479h0M361 395h0M362 402h0M359 418h0M359 446h0M361 422h0M359 484h0M362 483h0M358 461h0M363 470h0M361 459h0M361 487h0M362 437h0M360 402h0M363 463h0M360 482h0M360 459h0M363 445h0M359 413h0M360 439h0M359 485h0M362 471h0M359 496h0M359 440h0M362 441h0M360 474h0M363 469h0M362 476h0M361 450h0M363 491h0M359 450h0M359 477h0M359 423h0M362 490h0M360 481h0M361 431h0M362 396h0M364 408h0M361 405h0M361 471h0M359 408h0M362 464h0M360 473h0M362 411h0M358 449h0M358 487h0M361 422h0M361 466h0M362 463h0M359 410h0M359 405h0M360 485h0M364 415h0M362 493h0M359 474h0M363 432h0M358 454h0M361 429h0M362 449h0M362 499h0M359 426h0M359 477h0M363 490h0M360 448h0M363 406h0M359 405h0M359 481h0M359 498h0M360 411h0M362 475h0M364 494h0M362 468h0M360 452h0M361 430h0M360 477h0M361 426h0M361 429h0M359 486h0M360 394h0M359 463h0M361 446h0M359 452h0M359 394h0M359 428h0M360 479h0M360 455h0M362 473h0M359 390h0M362 467h0M359 467h0M358 483h0M360 405h0M363 425h0M361 472h0M363 448h0M362 451h0M363 485h0M362 416h0M361 393h0M363 485h0M359 440h0M362 452h0M360 459h0M358 491h0M359 407h0M362 468h0M359 408h0M363 428h0M359 498h0M362 424h0M359 477h0M359 399h0M358 472h0M359 396h0M359 417h0M360 418h0M362 414h0M360 419h0M362 464h0M362 412h0M359 434h0M361 407h0M360 397h0M359 425h0M362 450h0M358 490h0M363 427h0M359 490h0M362 412h0M361 478h0M358 492h0M359 458h0M359 472h0M362 425h0M362 485h0M358 429h0M362 499h0M359 478h0M358 403h0M358 432h0M360 435h0M361 497h0M360 395h0M361 447h0M360 393h0M360 492h0M362 401h0M359 474h0M358 492h0M362 472h0M363 465h0M358 441h0M358 418h0M358 416h0M364 494h0M361 461h0M362 470h0M360 451h0M359 455h0M361 424h0M362 428h0M360 477h0M359 411h0M362 409h0M364 458h0M362 491h0M360 410h0M361 469h0M358 488h0M360 394h0M359 498h0M374 436h0M387 442h0M374 404h0M383 431h0M381 409h0M375 404h0M385 427h0M378 443h0M383 418h0M383 440h0M383 436h0M381 440h0M381 405h0M373 427h0M372 408h0M379 401h0M370 411h0M381 440h0M386 433h0M383 434h0M378 436h0M382 411h0M380 403h0M379 431h0M387 428h0M374 435h0M378 418h0M386 401h0M382 433h0M377 407h0M378 408h0M384 430h0M376 443h0M374 429h0M376 424h0M380 424h0M380 412h0M374 429h0M381 408h0M386 423h0M372 409h0M386 419h0M379 415h0M383 419h0M373 425h0M376 411h0M378 411h0M375 405h0M374 407h0M372 442h0M376 427h0M376 433h0M379 431h0M371 403h0M374 439h0M373 409h0M374 437h0M385 403h0M384 429h0M386 418h0M378 418h0M376 407h0M378 406h0M376 442h0M382 428h0M373 418h0M382 428h0M378 410h0M385 414h0M375 402h0M384 442h0M372 443h0M384 421h0M378 429h0M383 435h0M375 428h0M379 436h0M385 402h0M384 400h0M385 422h0M380 415h0M377 441h0M371 424h0M372 436h0M385 442h0M382 435h0M374 418h0M384 426h0M381 396h0M380 408h0M377 443h0M381 411h0M374 415h0M373 401h0M382 404h0M378 443h0M376 399h0M375 413h0M387 433h0M375 435h0M385 429h0M380 419h0M386 410h0M373 417h0M382 438h0M382 430h0M379 421h0M380 437h0M381 414h0M378 410h0M377 400h0M384 418h0M385 407h0M381 431h0M383 414h0M379 407h0M374 413h0M376 409h0M377 424h0M372 409h0M381 421h0M378 433h0M375 405h0M382 421h0M377 402h0M374 427h0M384 440h0M384 413h0M375 401h0M385 492h0M379 463h0M372 461h0M376 470h0M375 486h0M371 491h0M374 465h0M382 467h0M379 457h0M373 460h0M373 468h0M371 464h0M375 486h0M374 448h0M383 451h0M373 474h0M370 446h0M378 467h0M385 479h0M382 461h0M375 482h0M377 488h0M376 455h0M382 485h0M380 453h0M374 465h0M375 474h0M379 465h0M376 456h0M386 453h0M386 448h0M381 462h0M373 447h0M379 473h0M373 448h0M373 449h0M381 452h0M386 495h0M385 448h0M377 452h0M372 472h0M380 479h0M374 456h0M385 489h0M377 490h0M377 496h0M384 447h0M380 477h0M374 468h0M379 487h0M380 473h0M371 457h0M384 466h0M382 447h0M386 482h0M375 472h0M383 491h0M377 463h0M376 468h0M376 479h0M379 455h0M377 446h0M378 473h0M375 462h0M372 476h0M377 469h0M379 470h0M376 465h0M381 487h0M382 473h0M383 492h0M382 484h0M371 449h0M382 490h0M374 454h0M380 479h0M380 452h0M372 446h0M383 448h0M377 485h0M382 448h0M384 461h0M381 495h0M379 489h0M371 444h0M386 465h0M373 484h0M377 458h0M380 466h0M376 474h0M376 493h0M372 459h0M374 455h0M384 471h0M384 472h0M376 486h0M378 480h0M375 447h0M381 460h0M381 475h0M376 452h0M383 465h0M381 446h0M379 485h0M373 473h0M378 465h0M383 476h0M380 476h0M381 467h0M371 475h0M385 468h0M380 454h0M381 490h0M375 493h0M373 486h0M384 494h0M382 460h0M372 487h0M378 446h0M384 458h0M385 446h0M375 450h0M375 445h0M370 463h0M378 444h0M382 469h0M376 465h0M373 471h0M378 459h0M379 487h0M374 481h0M372 455h0M380 482h0M381 461h0M381 453h0M383 462h0M375 452h0M372 487h0M373 458h0M382 451h0M380 471h0M385 490h0M379 452h0M374 464h0M382 462h0M372 469h0M378 468h0M373 471h0M378 487h0M381 462h0M385 474h0M376 487h0M377 482h0M385 458h0M379 478h0M372 445h0M385 458h0M374 470h0M383 462h0M379 488h0M376 471h0M373 464h0M388 464h0M377 483h0M384 493h0M383 473h0M378 465h0M382 480h0M376 456h0M372 469h0M374 453h0M385 460h0M380 458h0M383 481h0M386 454h0M374 459h0M380 486h0M379 489h0M373 457h0M382 476h0M377 474h0M372 475h0M375 480h0M374 471h0M383 469h0M384 462h0M378 467h0M377 484h0M377 476h0M373 464h0M382 472h0M378 475h0M384 448h0M377 488h0M385 445h0M380 472h0M372 487h0M377 454h0M380 491h0M386 490h0M376 491h0M380 449h0M386 469h0M384 451h0M379 461h0M378 464h0M382 478h0M377 463h0M382 476h0M373 483h0M382 477h0M372 469h0M376 492h0M375 469h0M386 474h0M380 485h0M374 467h0M380 467h0M383 468h0M381 454h0M384 487h0M373 464h0M382 450h0M374 464h0M376 456h0M379 495h0M384 483h0M381 474h0M370 450h0M381 454h0M376 473h0M376 450h0M380 450h0M380 472h0M387 473h0M377 486h0M384 495h0M378 464h0M372 472h0M378 468h0M376 445h0M381 491h0M383 486h0M372 479h0M374 470h0M381 459h0M372 468h0M383 481h0M376 452h0M383 483h0M373 473h0M379 483h0M383 461h0M383 475h0M378 470h0M386 459h0M378 488h0M377 476h0M375 452h0M372 484h0M378 445h0M374 447h0M386 493h0M383 486h0M384 478h0M379 457h0M375 467h0M383 454h0M383 448h0M382 451h0M376 480h0M383 466h0M384 486h0M375 463h0M383 469h0M401 432h0M399 417h0M408 434h0M411 410h0M421 414h0M419 432h0M430 431h0M438 426h0M416 419h0M437 408h0M420 437h0M419 412h0M406 429h0M406 426h0M421 424h0M454 419h0M429 430h0M424 417h0M390 416h0M391 421h0M428 425h0M440 430h0M409 434h0M415 423h0M401 425h0M423 436h0M400 422h0M406 432h0M441 423h0M407 437h0M423 415h0M427 422h0M409 409h0M424 422h0M428 419h0M403 430h0M435 426h0M398 404h0M423 430h0M421 418h0M420 424h0M431 429h0M429 420h0M430 401h0M396 421h0M420 415h0M420 425h0M409 421h0M409 427h0M421 416h0M418 436h0M403 408h0M393 411h0M430 427h0M433 425h0M397 425h0M423 435h0M423 435h0M454 434h0M416 429h0M397 432h0M407 427h0M420 431h0M399 412h0M412 428h0M404 428h0M412 425h0M418 414h0M391 420h0M410 429h0M409 417h0M406 420h0M422 436h0M403 429h0M448 412h0M434 417h0M420 423h0M417 419h0M403 436h0M391 429h0M397 430h0M418 425h0M390 421h0M410 438h0M410 429h0M428 434h0M418 431h0M408 420h0M412 434h0M410 410h0M413 434h0M432 432h0M436 434h0M409 430h0M429 415h0M399 429h0M416 436h0M392 426h0M430 436h0M423 421h0M427 414h0M400 429h0M422 436h0M403 417h0M397 438h0M421 432h0M448 431h0M406 435h0M406 438h0M409 422h0M392 410h0M401 425h0M392 427h0M433 408h0M409 419h0M404 422h0M411 420h0M400 426h0M411 422h0M428 435h0M407 433h0M403 431h0M419 436h0M416 437h0M428 423h0M395 434h0M400 436h0M392 435h0M402 435h0M413 437h0M416 426h0M421 413h0M422 435h0M405 421h0M415 425h0M403 432h0M434 427h0M401 438h0M407 425h0M410 427h0M414 437h0M404 422h0M427 425h0M421 428h0M398 421h0M394 437h0M416 433h0M406 434h0M392 427h0M393 424h0M395 428h0M420 416h0M390 414h0M398 422h0M397 422h0M421 432h0M414 437h0M420 415h0M432 427h0M412 434h0M403 417h0M412 429h0M425 417h0M407 425h0M425 432h0M402 413h0M414 423h0M401 431h0M415 433h0M422 421h0M407 432h0M408 411h0M409 413h0M404 433h0M391 425h0M437 421h0M395 425h0M389 418h0M425 429h0M427 425h0M424 434h0M412 423h0M429 428h0M400 420h0M417 408h0M393 438h0M406 425h0M420 417h0M396 422h0M405 412h0M418 427h0M408 408h0M454 418h0M407 433h0M425 426h0M412 426h0M407 436h0M445 420h0M401 404h0M413 414h0M405 429h0M424 434h0M434 430h0M412 426h0M403 432h0M410 435h0M432 430h0M423 435h0M429 436h0M418 437h0M421 408h0M411 430h0M415 434h0M401 426h0M397 422h0M402 430h0M405 426h0M433 422h0M430 427h0M444 429h0M413 433h0M431 424h0M402 414h0M412 426h0M392 430h0M406 415h0M409 413h0M393 410h0M417 419h0M414 423h0M397 406h0M389 416h0M428 426h0M423 420h0M406 417h0M416 434h0M393 423h0M413 429h0M406 434h0M418 420h0M397 408h0M394 426h0M390 423h0M421 423h0M432 426h0M428 414h0M431 423h0M423 428h0M412 430h0M443 432h0M408 423h0M443 423h0M432 431h0M432 420h0M438 404h0M412 410h0M409 409h0M412 423h0M413 428h0M409 407h0M409 402h0M413 431h0M409 429h0M391 418h0M407 424h0M412 417h0M428 436h0M440 421h0M404 449h0M402 442h0M409 441h0M409 449h0M400 442h0M400 452h0M416 444h0M414 449h0M411 455h0M401 453h0M404 439h0M388 450h0M405 451h0M410 457h0M404 450h0M416 448h0M407 449h0M393 445h0M390 474h0M390 474h0M399 448h0M393 478h0M405 445h0M405 450h0M402 442h0M401 472h0M405 464h0M405 446h0M391 473h0M410 455h0M394 481h0M411 446h0M390 469h0M400 477h0M388 477h0M398 465h0M389 449h0M391 474h0M403 465h0M397 438h0M407 445h0M414 449h0M396 456h0M398 440h0M392 444h0M388 449h0M414 446h0M398 454h0M391 445h0M391 449h0M397 473h0M388 463h0M403 466h0M421 444h0M410 454h0M423 447h0M407 452h0M409 451h0M402 455h0M395 456h0M401 452h0M400 442h0M410 451h0M396 464h0M395 464h0M420 444h0M396 476h0M398 460h0M409 453h0M390 473h0M399 471h0M397 468h0M415 450h0M393 439h0M395 457h0M402 466h0M388 480h0M391 470h0M410 436h0M393 442h0M424 446h0M403 466h0M390 457h0M393 453h0M391 475h0M399 443h0M417 457h0M399 446h0M397 478h0M390 443h0M413 448h0M424 444h0M409 457h0M401 469h0M414 438h0M394 469h0M399 446h0M396 445h0M409 442h0M416 445h0M387 472h0M398 458h0M406 452h0M398 466h0M403 474h0M402 454h0M401 456h0M401 477h0M390 477h0M393 458h0M391 441h0M397 459h0M425 441h0M400 476h0M398 462h0M395 460h0M393 446h0M402 460h0M412 447h0M427 441h0M410 453h0M405 451h0M409 452h0M389 475h0M399 475h0M395 449h0M417 453h0M404 468h0M394 472h0M405 445h0M406 439h0M410 443h0M402 440h0M403 447h0M408 442h0M401 464h0M398 456h0M421 442h0M390 454h0M407 461h0M398 453h0M411 448h0M423 441h0M403 458h0M393 437h0M418 439h0M399 456h0M404 464h0M401 472h0M395 452h0M391 439h0M392 475h0M395 466h0M401 455h0M389 475h0M412 456h0M396 451h0M403 468h0M411 445h0M405 456h0M397 467h0M393 452h0M391 457h0M393 470h0M391 450h0M396 442h0M409 442h0M401 463h0M403 445h0M391 469h0M404 459h0M406 455h0M409 456h0M391 472h0M388 460h0M401 443h0M392 446h0M402 460h0M403 443h0M389 461h0M393 457h0M396 461h0M391 455h0M401 443h0M404 449h0M389 461h0M399 474h0M405 453h0M405 450h0M413 441h0M396 463h0M393 454h0M415 445h0M403 460h0M392 471h0M400 472h0M395 456h0M394 477h0M397 444h0M396 464h0M394 460h0M396 466h0M396 460h0M412 453h0M405 450h0M394 458h0M409 448h0M405 459h0M390 479h0M416 451h0M395 452h0M395 448h0M390 440h0M397 473h0M389 472h0M392 456h0M408 449h0M388 455h0M406 459h0M398 444h0M419 439h0M398 463h0M396 443h0M399 473h0M419 440h0M400 449h0M404 460h0M398 464h0M394 440h0M416 448h0M390 459h0M402 455h0M417 444h0M410 440h0M401 459h0M394 464h0M402 445h0M395 442h0M407 452h0M414 452h0M411 450h0M407 458h0M396 442h0M406 455h0M398 446h0M396 464h0M408 437h0M420 444h0M392 450h0M404 447h0M412 452h0M390 464h0M403 447h0M395 461h0M403 446h0M413 449h0M394 453h0M393 461h0M393 471h0M396 445h0M403 441h0M402 469h0M415 449h0M395 454h0M400 458h0M413 449h0M394 446h0M401 464h0M404 476h0M415 450h0M398 458h0M392 450h0M393 458h0M391 445h0M402 452h0M417 452h0M404 440h0M392 460h0M393 449h0M414 457h0M393 471h0M398 444h0M410 442h0M388 460h0M396 453h0M398 464h0M400 441h0M393 444h0M401 466h0M420 445h0M392 470h0M390 462h0M390 470h0M399 476h0M407 450h0M390 460h0M506 434h0M477 423h0M488 422h0M438 420h0M478 433h0M562 408h0M479 437h0M465 430h0M541 409h0M530 406h0M514 415h0M488 408h0M438 447h0M526 442h0M543 418h0M533 433h0M511 435h0M519 427h0M458 441h0M537 444h0M454 438h0M562 428h0M556 426h0M513 414h0M485 431h0M537 447h0M544 415h0M447 417h0M508 444h0M559 414h0M506 435h0M466 412h0M462 446h0M450 435h0M516 408h0M468 413h0M563 428h0M480 433h0M563 421h0M553 416h0M505 410h0M533 425h0M464 422h0M436 418h0M441 417h0M499 419h0M548 430h0M442 419h0M467 424h0M511 405h0M536 440h0M497 443h0M459 416h0M558 423h0M430 428h0M520 406h0M461 413h0M533 425h0M519 428h0M553 413h0M462 417h0M525 420h0M424 466h0M436 458h0M435 446h0M405 453h0M404 442h0M413 490h0M453 443h0M420 471h0M399 440h0M403 442h0M463 440h0M412 447h0M432 466h0M435 476h0M464 461h0M412 463h0M493 442h0M424 442h0M470 443h0M414 444h0M459 441h0M418 453h0M435 459h0M412 452h0M452 439h0M416 397h0M423 365h0M444 372h0M548 343h0M508 364h0M410 352h0" stroke="#e82a5a" stroke-opacity="1.0" stroke-width="3" stroke-linecap="square" fill="none"/>
<path transform="scale(.5)" d="M149 655h0M149 659h0M128 663h0M149 652h0M169 655h0M132 663h0M146 661h0M162 660h0M159 666h0M139 659h0M116 661h0M156 661h0M150 667h0M140 653h0M174 660h0M140 668h0M148 652h0M139 661h0M117 664h0M166 668h0M148 655h0M139 661h0M165 657h0M135 640h0M160 659h0M148 661h0M145 664h0M138 662h0M144 669h0M133 658h0M125 646h0M146 665h0M148 666h0M143 658h0M152 658h0M138 666h0M158 653h0M124 647h0M150 655h0M139 667h0M148 661h0M136 666h0M158 668h0M143 666h0M155 670h0M156 646h0M140 662h0M159 659h0M134 650h0M139 657h0M131 659h0M128 666h0M150 662h0M154 666h0M121 668h0M121 648h0M157 646h0M167 661h0M163 660h0M154 657h0M144 661h0M136 658h0M136 645h0M140 661h0M140 649h0M138 651h0M150 670h0M143 670h0M133 669h0M109 665h0M166 653h0M112 670h0M134 668h0M135 648h0M147 667h0M163 665h0M134 661h0M154 662h0M165 660h0M162 662h0M133 657h0M142 659h0M173 660h0M144 663h0M123 652h0M143 658h0M133 666h0M126 658h0M152 661h0M126 668h0M127 648h0M160 664h0M138 664h0M166 656h0M128 670h0M144 657h0M163 663h0M143 658h0M148 667h0M125 663h0M151 663h0M149 667h0M123 646h0M158 644h0M147 657h0M152 660h0M142 660h0M140 661h0M142 668h0M115 651h0M144 649h0M151 658h0M161 659h0M131 664h0M154 651h0M145 651h0M155 659h0M166 659h0M176 657h0M137 649h0M150 653h0M157 648h0M171 657h0M138 653h0M158 660h0M154 666h0M149 661h0M154 665h0M140 666h0M157 652h0M139 643h0M155 653h0M145 657h0M161 668h0M155 655h0M157 653h0M172 656h0M166 662h0M176 664h0M152 656h0M127 659h0M170 660h0M129 656h0M142 665h0M145 660h0M130 660h0M149 648h0M109 652h0M121 657h0M127 662h0M128 659h0M158 657h0M124 659h0M156 661h0M151 662h0M138 653h0M135 654h0M157 669h0M139 655h0M126 660h0M162 654h0M148 660h0M167 657h0M150 666h0M115 654h0M108 655h0M131 660h0M138 658h0M140 659h0M132 651h0M148 657h0M158 662h0M122 650h0M140 663h0M128 652h0M148 662h0M115 662h0M126 662h0M167 662h0M145 662h0M173 658h0M127 656h0M143 660h0M119 659h0M161 662h0M161 667h0M133 652h0M150 660h0M144 664h0M142 667h0M142 657h0M142 652h0M162 661h0M161 663h0M136 668h0M143 665h0M135 664h0M157 662h0M135 659h0M142 657h0M160 664h0M154 670h0M143 660h0M161 655h0M131 666h0M142 663h0M156 666h0M170 669h0M145 658h0M159 667h0M151 669h0M136 652h0M173 659h0M156 659h0M165 659h0M159 666h0M138 667h0M152 658h0M161 661h0M110 665h0M172 667h0M135 659h0M176 666h0M141 642h0M151 663h0M181 662h0M142 662h0M151 657h0M144 666h0M170 661h0M152 658h0M177 661h0M137 654h0M161 664h0M156 655h0M134 668h0M135 664h0M134 658h0M121 640h0M123 662h0M117 661h0M131 657h0M129 662h0M162 666h0M144 648h0M133 655h0M114 644h0M138 659h0M136 665h0M174 661h0M127 655h0M149 656h0M142 648h0M159 668h0M129 666h0M153 654h0M138 653h0M142 652h0M146 658h0M132 649h0M128 664h0M163 669h0M158 644h0M153 655h0M125 663h0M141 657h0M141 665h0M137 661h0M121 656h0M118 652h0M111 662h0M146 664h0M146 666h0M173 668h0M145 663h0M109 655h0M138 664h0M178 649h0M159 663h0M137 662h0M137 659h0M171 663h0M112 662h0M152 662h0M126 660h0M154 661h0M158 658h0M129 653h0M166 663h0M139 658h0M152 665h0M116 647h0M129 667h0M139 669h0M147 651h0M173 656h0M159 646h0M140 656h0M136 658h0M123 670h0M133 659h0M158 665h0M165 662h0M130 659h0M161 655h0M187 668h0M152 648h0M111 669h0M141 658h0M128 650h0M140 659h0M157 636h0M151 664h0M146 668h0M154 670h0M145 666h0M141 667h0M149 670h0M121 660h0M131 661h0M140 650h0M152 664h0M133 650h0M125 661h0M121 658h0M152 670h0M148 659h0M152 643h0M148 660h0M154 647h0M145 651h0M122 668h0M179 662h0M151 656h0M151 649h0M131 647h0M141 664h0M163 641h0M138 660h0M127 655h0M129 667h0M138 669h0M148 649h0M152 669h0M128 666h0M150 667h0M139 666h0M151 653h0M153 663h0M153 660h0M181 662h0M133 663h0M141 653h0M166 662h0M121 666h0M119 644h0M136 644h0M139 667h0M129 660h0M112 666h0M125 654h0M209 664h0M181 652h0M132 664h0M151 649h0M146 663h0M170 655h0M196 664h0M179 650h0M199 664h0M188 662h0M225 649h0M169 658h0M146 659h0M180 659h0M143 660h0M159 653h0M154 654h0M149 653h0M207 668h0M145 658h0M154 648h0M181 660h0M156 655h0M174 668h0M167 652h0M200 660h0M178 650h0M159 669h0M185 653h0M200 665h0M187 665h0M193 645h0M188 662h0M141 666h0M171 640h0M159 648h0M178 653h0M168 666h0M182 649h0M145 664h0M166 647h0M198 651h0M188 658h0M181 657h0M184 669h0M160 659h0M175 658h0M162 658h0M215 653h0M178 663h0M174 651h0M211 646h0M201 648h0M233 664h0M174 648h0M180 649h0M169 658h0M180 650h0M165 642h0M237 651h0M174 645h0M176 655h0M240 641h0M177 650h0M162 653h0M174 651h0M218 666h0M239 653h0M224 655h0M172 644h0M203 641h0M193 646h0M172 644h0M174 669h0M186 657h0M195 614h0M118 621h0M128 622h0M130 608h0M147 629h0M177 606h0M136 610h0M128 679h0M129 680h0M125 698h0M116 715h0M136 686h0M128 711h0M115 712h0M112 715h0M122 698h0M121 681h0M123 681h0M110 691h0M130 675h0M124 701h0M112 674h0M114 679h0M113 684h0M132 674h0M120 694h0M112 714h0M129 690h0M126 703h0M123 709h0M110 691h0M128 683h0M110 688h0M124 704h0M120 714h0M132 673h0M118 720h0M126 686h0M131 693h0M138 681h0M121 711h0M133 681h0M123 692h0M136 691h0M116 711h0M132 688h0M124 686h0M114 684h0M133 683h0M118 694h0M131 683h0M116 693h0M112 705h0M117 715h0M114 680h0M110 696h0M119 690h0M118 708h0M133 693h0M117 705h0M121 685h0M113 692h0M112 707h0M114 678h0M123 704h0M110 688h0M131 692h0M113 703h0M111 694h0M134 689h0M124 683h0M114 714h0M115 712h0M117 722h0M120 705h0M113 716h0M122 718h0M119 715h0M121 704h0M113 705h0M117 712h0M116 682h0M131 681h0M129 694h0M117 711h0M124 696h0M121 706h0M126 675h0M129 703h0M130 706h0M118 700h0M116 722h0M116 713h0M117 699h0M123 690h0M122 712h0M114 676h0M114 696h0M137 681h0M115 701h0M126 671h0M118 716h0M128 706h0M126 701h0M116 699h0M128 714h0M133 690h0M132 681h0M131 673h0M126 698h0M119 678h0M113 704h0M138 690h0M112 725h0M123 679h0M116 687h0M131 690h0M110 720h0M118 700h0M127 696h0M129 692h0M138 681h0M134 695h0M118 702h0M114 693h0M125 695h0M121 711h0M122 682h0M139 680h0M125 678h0M118 673h0M130 676h0M108 702h0M131 700h0M110 701h0M136 681h0M114 683h0M124 685h0M134 700h0M119 705h0M123 713h0M125 682h0M126 672h0M116 684h0M116 714h0M110 719h0M120 679h0M127 674h0M121 705h0M113 686h0M126 688h0M118 705h0M110 687h0M123 712h0M127 705h0M113 696h0M116 675h0M115 708h0M117 717h0M114 720h0M110 720h0M136 690h0M115 702h0M110 722h0M123 706h0M122 706h0M115 688h0M126 710h0M129 682h0M135 693h0M137 688h0M125 702h0M118 676h0M134 690h0M119 699h0M125 683h0M121 683h0M111 695h0M129 680h0M116 716h0M120 687h0M133 693h0M130 702h0M111 671h0M128 708h0M122 677h0M110 695h0M135 675h0M113 674h0M123 696h0M111 676h0M113 678h0M116 691h0M121 706h0M132 693h0M109 678h0M122 692h0M113 702h0M130 679h0M119 704h0M117 702h0M114 687h0M123 696h0M117 709h0M120 710h0M122 710h0M128 686h0M123 682h0M117 670h0M131 675h0M113 701h0M118 719h0M110 688h0M135 693h0M112 721h0M133 694h0M124 716h0M120 697h0M129 695h0M115 712h0M113 707h0M126 705h0M133 690h0M112 713h0M121 678h0M117 676h0M142 678h0M114 676h0M116 695h0M112 671h0M115 709h0M115 718h0M121 696h0M125 690h0M129 704h0M119 685h0M126 704h0M114 693h0M113 699h0M132 690h0M125 680h0M129 681h0M115 681h0M110 674h0M109 701h0M124 707h0M121 705h0M133 680h0M113 696h0M124 673h0M117 674h0M131 697h0M114 710h0M123 689h0M122 698h0M117 717h0M127 684h0M118 689h0M123 687h0M119 712h0M112 679h0M128 673h0M137 688h0M113 719h0M119 691h0M125 710h0M133 679h0M122 696h0M118 697h0M114 686h0M114 697h0M127 670h0M111 717h0M114 706h0M112 701h0M113 694h0M128 713h0M122 700h0M115 703h0M121 708h0M123 702h0M132 674h0M110 709h0M117 700h0M114 706h0M117 687h0M120 687h0M122 695h0M111 684h0M125 715h0M126 708h0M118 714h0M114 685h0M130 679h0M110 673h0M129 675h0M116 679h0M109 700h0M126 713h0M135 700h0M117 686h0M109 708h0M118 718h0M136 684h0M119 705h0M109 706h0M124 700h0M108 708h0M110 728h0M111 708h0M109 666h0M110 700h0M113 705h0M109 705h0M109 690h0M112 688h0M109 690h0M112 686h0M108 719h0M111 662h0M109 711h0M111 673h0M109 713h0M112 692h0M109 666h0M112 722h0M111 672h0M111 730h0M110 711h0M110 676h0M109 660h0M110 667h0M112 681h0M110 705h0M111 715h0M112 709h0M149 686h0M152 677h0M144 686h0M141 698h0M152 683h0M145 689h0M143 673h0M149 679h0M143 676h0M147 687h0M150 675h0M150 684h0M144 679h0M142 686h0M151 673h0M155 675h0M142 679h0M139 690h0M141 691h0M139 673h0M141 684h0M146 676h0M144 676h0M141 687h0M142 688h0M147 692h0M148 675h0M153 675h0M155 681h0M140 678h0M143 671h0M143 686h0M150 677h0M147 671h0M158 678h0M154 672h0M145 673h0M148 674h0M146 681h0M151 684h0M145 691h0M140 694h0M147 672h0M138 689h0M140 690h0M148 673h0M143 691h0M146 674h0M146 694h0M145 686h0M139 687h0M141 685h0M151 681h0M141 681h0M145 683h0M148 679h0M151 683h0M155 675h0M147 679h0M145 673h0M137 685h0M141 682h0M153 680h0M152 685h0M154 674h0M144 674h0M150 680h0M141 675h0M154 674h0M145 676h0M158 674h0M140 675h0M144 686h0M152 678h0M141 690h0M142 693h0M149 689h0M147 680h0M144 678h0M142 701h0M141 674h0M149 683h0M152 678h0M145 685h0M142 675h0M142 698h0M155 674h0M146 677h0M142 696h0M151 683h0M150 672h0M140 674h0M148 691h0M143 692h0M148 678h0M143 687h0M154 681h0M148 685h0M140 681h0M141 692h0M143 687h0M154 672h0M146 677h0M161 671h0M148 688h0M145 688h0M150 684h0M146 683h0M138 674h0M138 692h0M144 691h0M151 674h0M137 677h0M137 685h0M148 677h0M144 683h0M145 681h0M145 674h0M155 680h0M142 681h0M173 673h0M183 684h0M173 688h0M174 678h0M191 671h0M171 684h0M157 671h0M180 672h0M169 674h0M172 676h0M177 681h0M158 671h0M176 676h0M167 688h0M167 674h0M185 678h0M153 666h0" stroke="#e82a5a" stroke-opacity="1.0" stroke-width="3" stroke-linecap="square" fill="none"/>
<path transform="scale(.5)" d="M403 671h0M395 668h0M410 669h0M391 668h0M402 668h0M391 662h0M382 668h0M395 662h0M363 675h0M392 665h0M401 667h0M391 664h0M409 665h0M393 665h0M402 675h0M422 666h0M408 664h0M403 673h0M380 668h0M375 658h0M377 663h0M401 662h0M385 673h0M380 662h0M397 675h0M385 670h0M393 672h0M407 671h0M411 659h0M393 669h0M396 670h0M396 666h0M378 662h0M393 667h0M396 666h0M420 666h0M402 666h0M382 674h0M400 668h0M397 667h0M399 673h0M402 674h0M395 669h0M381 661h0M380 672h0M403 663h0M405 666h0M397 658h0M371 665h0M418 671h0M385 675h0M401 673h0M394 672h0M389 668h0M373 675h0M404 674h0M394 673h0M404 667h0M367 670h0M397 670h0M405 668h0M399 668h0M399 666h0M414 667h0M372 664h0M387 661h0M380 668h0M402 668h0M410 670h0M402 667h0M396 674h0M382 675h0M411 676h0M391 664h0M399 674h0M395 667h0M400 666h0M401 676h0M391 662h0M397 672h0M392 671h0M369 666h0M406 670h0M423 674h0M407 673h0M368 657h0M401 665h0M385 674h0M395 664h0M415 656h0M389 674h0M383 664h0M390 674h0M414 668h0M380 668h0M400 658h0M390 671h0M405 658h0M392 667h0M396 661h0M395 665h0M414 663h0M391 669h0M383 673h0M412 668h0M395 670h0M417 671h0M401 669h0M376 667h0M393 663h0M401 671h0M387 664h0M384 674h0M388 663h0M371 675h0M410 660h0M398 662h0M373 671h0M383 669h0M420 667h0M396 665h0M386 668h0M397 664h0M392 669h0M410 666h0M392 661h0M419 666h0M375 653h0M379 667h0M383 662h0M374 671h0M417 675h0M392 671h0M388 662h0M396 671h0M377 669h0M378 663h0M389 674h0M393 668h0M429 664h0M393 673h0M407 659h0M401 662h0M405 671h0M405 668h0M397 664h0M364 666h0M396 673h0M415 650h0M385 665h0M399 671h0M412 669h0M391 663h0M393 676h0M395 670h0M416 666h0M419 668h0M378 671h0M360 662h0M386 659h0M397 667h0M383 672h0M404 663h0M381 674h0M430 674h0M401 670h0M393 659h0M407 672h0M363 673h0M386 669h0M408 674h0M386 675h0M378 676h0M403 675h0M379 668h0M412 672h0M388 673h0M385 663h0M396 671h0M391 670h0M407 666h0M390 665h0M387 671h0M374 669h0M412 667h0M412 675h0M380 666h0M400 673h0M391 668h0M380 667h0M402 668h0M389 674h0M411 671h0M393 665h0M385 668h0M401 666h0M388 674h0M384 674h0M393 665h0M399 666h0M409 667h0M411 668h0M401 672h0M378 666h0M408 675h0M406 667h0M387 675h0M407 668h0M393 664h0M386 667h0M405 662h0M389 671h0M383 662h0M394 669h0M389 674h0M382 671h0M393 668h0M409 667h0M391 670h0M396 660h0M419 663h0M403 668h0M379 672h0M423 667h0M393 665h0M395 676h0M401 671h0M390 669h0M399 671h0M393 672h0M400 667h0M406 671h0M389 669h0M402 676h0M382 673h0M416 666h0M388 671h0M393 674h0M395 670h0M404 653h0M432 674h0M407 663h0M410 659h0M379 667h0M412 667h0M389 674h0M378 659h0M400 669h0M402 660h0M379 659h0M395 665h0M394 673h0M395 669h0M380 672h0M418 667h0M413 673h0M386 670h0M383 659h0M400 669h0M387 666h0M393 664h0M390 676h0M397 672h0M375 664h0M395 660h0M394 665h0M394 651h0M416 663h0M395 673h0M380 673h0M378 672h0M416 676h0M403 666h0M367 665h0M417 670h0M392 671h0M409 664h0M386 673h0M380 669h0M395 674h0M404 675h0M393 668h0M372 666h0M406 670h0M376 661h0M409 674h0M381 672h0M396 672h0M368 670h0M408 662h0M394 665h0M384 661h0M408 673h0M416 671h0M364 665h0M394 665h0M390 661h0M399 670h0M419 671h0M393 669h0M413 675h0M403 672h0M397 661h0M391 673h0M402 667h0M383 661h0M389 673h0M401 672h0M402 670h0M367 659h0M396 663h0M397 673h0M395 673h0M426 665h0M396 669h0M395 669h0M393 658h0M416 662h0M391 671h0M379 674h0M425 668h0M387 659h0M416 663h0M439 671h0M448 667h0M431 660h0M385 676h0M430 673h0M421 663h0M402 664h0M373 675h0M428 676h0M430 664h0M376 665h0M455 672h0M396 664h0M425 664h0M438 669h0M413 667h0M410 664h0M412 670h0M424 669h0M390 668h0M426 652h0M403 666h0M408 668h0M421 661h0M393 656h0M400 664h0M415 669h0M417 665h0M387 673h0M445 660h0M424 668h0M448 660h0M441 665h0M390 672h0M405 664h0M370 717h0M373 714h0M378 713h0M379 705h0M387 693h0M383 707h0M384 677h0M380 695h0M379 725h0M380 710h0M372 678h0M388 680h0M380 723h0M380 708h0M376 685h0M373 713h0M370 712h0M378 719h0M388 708h0M370 713h0M382 709h0M372 692h0M368 710h0M374 693h0M369 712h0M384 709h0M377 724h0M370 703h0M372 727h0M376 715h0M388 711h0M367 692h0M378 704h0M377 680h0M385 701h0M387 720h0M377 688h0M385 699h0M373 706h0M375 686h0M367 678h0M380 680h0M390 694h0M373 702h0M374 715h0M385 677h0M387 723h0M383 687h0M372 695h0M373 714h0M386 702h0M381 696h0M373 707h0M384 695h0M370 701h0M381 707h0M382 687h0M379 686h0M384 699h0M390 713h0M380 707h0M380 699h0M380 705h0M368 709h0M381 680h0M376 690h0M375 689h0M385 698h0M373 708h0M384 690h0M391 710h0M387 705h0M381 678h0M367 724h0M379 696h0M376 698h0M375 717h0M371 714h0M380 706h0M369 725h0M380 722h0M388 683h0M386 680h0M368 717h0M384 706h0M382 708h0M370 702h0M374 699h0M383 697h0M366 688h0M385 681h0M380 719h0M376 698h0M388 711h0M389 713h0M383 690h0M379 720h0M366 705h0M382 686h0M371 702h0M386 713h0M367 704h0M379 699h0M374 685h0M381 710h0M387 710h0M378 682h0M387 684h0M375 724h0M377 709h0M389 680h0M371 693h0M388 688h0M380 714h0M385 684h0M385 686h0M385 711h0M389 711h0M365 724h0M374 717h0M383 681h0M371 695h0M383 700h0M388 711h0M379 697h0M378 711h0M386 680h0M370 721h0M378 687h0M382 691h0M367 705h0M376 694h0M371 688h0M374 711h0M380 693h0M388 712h0M375 709h0M382 690h0M376 688h0M367 706h0M380 689h0M371 693h0M369 701h0M386 714h0M372 727h0M373 699h0M384 706h0M375 695h0M381 690h0M388 699h0M365 703h0M369 685h0M370 681h0M377 702h0M376 714h0M386 690h0M376 724h0M375 697h0M373 701h0M377 681h0M381 709h0M385 717h0M366 699h0M374 688h0M377 680h0M369 678h0M369 702h0M381 681h0M372 719h0M379 708h0M378 688h0M385 690h0M382 705h0M379 699h0M381 703h0M383 707h0M372 698h0M380 691h0M371 687h0M379 716h0M380 680h0M380 690h0M387 701h0M367 700h0M384 709h0M367 703h0M384 685h0M378 686h0M376 713h0M387 694h0M368 705h0M368 693h0M376 716h0M383 707h0M373 722h0M365 709h0M383 684h0M378 687h0M380 686h0M376 716h0M390 704h0M384 692h0M369 681h0M384 684h0M378 695h0M386 717h0M375 681h0M370 684h0M370 711h0M375 688h0M373 699h0M370 703h0M383 687h0M369 707h0M370 724h0M390 683h0M387 690h0M383 716h0M373 726h0M370 698h0M373 690h0M384 682h0M381 705h0M378 708h0M387 719h0M389 699h0M391 709h0M367 715h0M383 700h0M381 702h0M368 702h0M384 688h0M377 682h0M374 689h0M384 704h0M377 714h0M383 706h0M370 695h0M364 695h0M376 715h0M389 707h0M376 678h0M389 694h0M378 685h0M386 700h0M382 710h0M377 695h0M370 698h0M383 721h0M388 695h0M376 701h0M375 704h0M383 716h0M381 690h0M372 678h0M387 716h0M379 683h0M387 687h0M379 721h0M380 708h0M382 694h0M382 679h0M377 718h0M383 689h0M381 685h0M385 713h0M379 699h0M375 709h0M376 681h0M390 687h0M382 690h0M383 708h0M365 702h0M379 683h0M368 721h0M379 689h0M374 708h0M370 706h0M373 679h0M372 715h0M390 711h0M373 695h0M372 717h0M382 721h0M364 724h0M385 695h0M381 700h0M373 726h0M377 679h0M387 706h0M371 689h0M378 705h0M378 702h0M383 685h0M388 699h0M370 713h0M373 698h0M367 720h0M377 705h0M386 689h0M376 699h0M381 715h0M369 724h0M378 689h0M379 686h0M379 675h0M389 690h0M372 690h0M384 684h0M374 710h0M374 698h0M379 674h0M383 696h0M380 719h0M385 702h0M386 683h0M373 688h0M366 708h0M378 715h0M383 714h0M369 714h0M386 702h0M365 711h0M390 683h0M373 700h0M369 729h0M373 707h0M370 723h0M384 693h0M371 685h0M383 679h0M368 703h0M380 722h0M384 695h0M372 711h0M371 709h0M372 686h0M387 688h0M385 697h0M379 697h0M384 692h0M373 680h0M377 710h0M376 724h0M367 721h0M387 698h0M390 692h0M375 685h0M371 694h0M379 701h0M386 688h0M376 683h0M381 719h0M365 726h0M369 713h0M366 686h0M374 695h0M381 699h0M371 715h0M387 698h0M383 725h0M387 706h0M377 720h0M382 693h0M386 719h0M379 719h0M366 685h0M370 710h0M387 691h0M386 680h0M384 720h0M393 697h0M371 711h0M390 710h0M378 702h0M378 684h0M387 689h0M385 712h0M378 697h0M375 723h0M379 709h0M376 708h0M397 698h0M409 683h0M395 690h0M396 678h0M399 682h0M394 679h0M397 686h0M396 684h0M401 679h0M398 682h0M394 687h0M394 683h0M405 685h0M406 685h0M405 677h0M409 682h0M397 688h0M400 684h0M393 681h0M402 682h0M397 699h0M405 685h0M391 681h0M398 689h0M407 687h0M395 683h0M398 690h0M395 683h0M395 694h0M400 683h0M397 692h0M397 687h0M407 679h0M393 687h0M400 695h0M403 683h0M393 682h0M398 697h0M396 699h0M391 702h0M391 700h0M398 693h0M392 698h0M393 682h0M402 678h0M400 684h0M398 686h0M409 683h0M394 696h0M396 685h0M393 692h0M398 682h0M411 680h0M397 682h0M395 688h0M396 696h0M390 698h0M406 683h0M396 691h0M394 682h0M400 690h0M410 682h0M404 688h0M412 679h0M399 696h0M401 681h0M408 681h0M404 685h0M401 697h0M393 694h0M406 684h0M395 695h0M413 678h0M390 687h0M408 683h0M394 701h0M395 695h0M392 689h0M408 680h0M398 684h0M401 682h0M393 694h0M395 677h0M410 683h0M393 689h0M393 691h0M395 687h0M405 679h0M405 680h0M414 682h0M409 679h0M389 697h0M401 683h0M398 695h0M393 690h0M403 687h0M396 691h0M400 695h0M404 681h0M403 682h0M396 696h0M401 682h0M392 683h0M399 685h0M399 683h0M405 687h0M401 689h0M395 679h0M399 679h0M395 689h0M409 685h0M406 685h0M394 694h0M396 692h0M403 686h0M412 680h0M392 695h0M390 700h0M410 680h0M402 682h0M400 688h0M406 680h0M396 688h0M405 686h0M395 701h0M393 685h0M395 699h0M391 702h0M390 699h0M397 689h0M414 674h0M406 686h0M393 687h0M395 687h0M407 684h0M397 686h0M394 689h0M401 693h0M404 686h0M398 702h0M394 681h0M421 680h0M420 689h0M434 680h0M415 685h0M414 694h0M416 686h0M413 677h0M436 680h0M409 693h0M413 683h0M410 697h0M423 691h0M408 689h0M412 679h0M405 689h0M414 683h0M444 679h0M407 687h0M446 679h0M405 680h0M421 684h0M405 688h0M414 682h0M418 692h0M417 679h0M411 695h0M363 705h0M365 728h0M364 721h0M361 708h0M361 700h0M366 727h0M363 713h0M362 712h0M361 711h0M364 726h0M363 699h0M363 713h0M367 709h0M367 703h0M368 723h0M363 708h0M361 709h0M363 708h0M361 711h0M364 717h0M364 696h0M367 696h0M367 719h0M365 698h0M367 731h0M369 720h0M364 704h0M365 700h0M364 697h0M360 715h0M362 701h0M466 648h0M450 643h0M401 645h0M472 643h0M374 644h0M391 651h0M384 654h0M395 652h0" stroke="#e82a5a" stroke-opacity="1.0" stroke-width="3" stroke-linecap="square" fill="none"/>
</g>
<rect x="52.30" y="32.80" width="108.60" height="100.40" fill="none" stroke="#111" stroke-width="1.4"/>
<path d="M67.30 32.80V133.20M52.30 102.20H160.90" stroke="#111" stroke-width="1.45"/>
<path d="M48.90 133.20H52.30M49.70 125.64H52.30M49.70 121.22H52.30M49.70 118.09H52.30M49.70 115.66H52.30M49.70 113.67H52.30M49.70 111.99H52.30M49.70 110.53H52.30M49.70 109.25H52.30M48.90 108.10H52.30M49.70 100.54H52.30M49.70 96.12H52.30M49.70 92.99H52.30M49.70 90.56H52.30M49.70 88.57H52.30M49.70 86.89H52.30M49.70 85.43H52.30M49.70 84.15H52.30M48.90 83.00H52.30M49.70 75.44H52.30M49.70 71.02H52.30M49.70 67.89H52.30M49.70 65.46H52.30M49.70 63.47H52.30M49.70 61.79H52.30M49.70 60.33H52.30M49.70 59.05H52.30M48.90 57.90H52.30M49.70 50.34H52.30M49.70 45.92H52.30M49.70 42.79H52.30M49.70 40.36H52.30M49.70 38.37H52.30M49.70 36.69H52.30M49.70 35.23H52.30M49.70 33.95H52.30M48.90 32.80H52.30" stroke="#111" stroke-width="1.1" fill="none"/>
<path d="M52.30 133.20V137.40M57.73 133.20V136.20M63.16 133.20V136.20M68.59 133.20V136.20M74.02 133.20V137.40M79.45 133.20V136.20M84.88 133.20V136.20M90.31 133.20V136.20M95.74 133.20V137.40M101.17 133.20V136.20M106.60 133.20V136.20M112.03 133.20V136.20M117.46 133.20V137.40M122.89 133.20V136.20M128.32 133.20V136.20M133.75 133.20V136.20M139.18 133.20V137.40M144.61 133.20V136.20M150.04 133.20V136.20M155.47 133.20V136.20M160.90 133.20V137.40" stroke="#111" stroke-width="1.15" fill="none"/>
<rect x="176.60" y="32.80" width="108.80" height="100.30" fill="none" stroke="#111" stroke-width="1.4"/>
<path d="M191.20 32.80V133.10M176.60 101.90H285.40" stroke="#111" stroke-width="1.45"/>
<path d="M173.20 133.10H176.60M174.00 125.55H176.60M174.00 121.14H176.60M174.00 118.00H176.60M174.00 115.57H176.60M174.00 113.59H176.60M174.00 111.91H176.60M174.00 110.46H176.60M174.00 109.17H176.60M173.20 108.02H176.60M174.00 100.48H176.60M174.00 96.06H176.60M174.00 92.93H176.60M174.00 90.50H176.60M174.00 88.51H176.60M174.00 86.83H176.60M174.00 85.38H176.60M174.00 84.10H176.60M173.20 82.95H176.60M174.00 75.40H176.60M174.00 70.99H176.60M174.00 67.85H176.60M174.00 65.42H176.60M174.00 63.44H176.60M174.00 61.76H176.60M174.00 60.31H176.60M174.00 59.02H176.60M173.20 57.88H176.60M174.00 50.33H176.60M174.00 45.91H176.60M174.00 42.78H176.60M174.00 40.35H176.60M174.00 38.36H176.60M174.00 36.68H176.60M174.00 35.23H176.60M174.00 33.95H176.60M173.20 32.80H176.60" stroke="#111" stroke-width="1.1" fill="none"/>
<path d="M176.60 133.10V137.30M182.04 133.10V136.10M187.48 133.10V136.10M192.92 133.10V136.10M198.36 133.10V137.30M203.80 133.10V136.10M209.24 133.10V136.10M214.68 133.10V136.10M220.12 133.10V137.30M225.56 133.10V136.10M231.00 133.10V136.10M236.44 133.10V136.10M241.88 133.10V137.30M247.32 133.10V136.10M252.76 133.10V136.10M258.20 133.10V136.10M263.64 133.10V137.30M269.08 133.10V136.10M274.52 133.10V136.10M279.96 133.10V136.10M285.40 133.10V137.30" stroke="#111" stroke-width="1.15" fill="none"/>
<rect x="52.60" y="149.40" width="109.30" height="100.90" fill="none" stroke="#111" stroke-width="1.4"/>
<path d="M68.70 149.40V250.30M52.60 217.80H161.90" stroke="#111" stroke-width="1.45"/>
<path d="M49.20 250.30H52.60M50.00 242.71H52.60M50.00 238.26H52.60M50.00 235.11H52.60M50.00 232.67H52.60M50.00 230.67H52.60M50.00 228.98H52.60M50.00 227.52H52.60M50.00 226.23H52.60M49.20 225.08H52.60M50.00 217.48H52.60M50.00 213.04H52.60M50.00 209.89H52.60M50.00 207.44H52.60M50.00 205.45H52.60M50.00 203.76H52.60M50.00 202.29H52.60M50.00 201.00H52.60M49.20 199.85H52.60M50.00 192.26H52.60M50.00 187.81H52.60M50.00 184.66H52.60M50.00 182.22H52.60M50.00 180.22H52.60M50.00 178.53H52.60M50.00 177.07H52.60M50.00 175.78H52.60M49.20 174.62H52.60M50.00 167.03H52.60M50.00 162.59H52.60M50.00 159.44H52.60M50.00 156.99H52.60M50.00 155.00H52.60M50.00 153.31H52.60M50.00 151.84H52.60M50.00 150.55H52.60M49.20 149.40H52.60" stroke="#111" stroke-width="1.1" fill="none"/>
<path d="M52.60 250.30V254.50M58.07 250.30V253.30M63.53 250.30V253.30M69.00 250.30V253.30M74.46 250.30V254.50M79.93 250.30V253.30M85.39 250.30V253.30M90.86 250.30V253.30M96.32 250.30V254.50M101.79 250.30V253.30M107.25 250.30V253.30M112.72 250.30V253.30M118.18 250.30V254.50M123.65 250.30V253.30M129.11 250.30V253.30M134.58 250.30V253.30M140.04 250.30V254.50M145.51 250.30V253.30M150.97 250.30V253.30M156.44 250.30V253.30M161.90 250.30V254.50" stroke="#111" stroke-width="1.15" fill="none"/>
<rect x="177.40" y="149.20" width="108.80" height="101.80" fill="none" stroke="#111" stroke-width="1.4"/>
<path d="M193.80 149.20V251.00M177.40 219.40H286.20" stroke="#111" stroke-width="1.45"/>
<path d="M174.00 251.00H177.40M174.80 243.34H177.40M174.80 238.86H177.40M174.80 235.68H177.40M174.80 233.21H177.40M174.80 231.20H177.40M174.80 229.49H177.40M174.80 228.02H177.40M174.80 226.71H177.40M174.00 225.55H177.40M174.80 217.89H177.40M174.80 213.41H177.40M174.80 210.23H177.40M174.80 207.76H177.40M174.80 205.75H177.40M174.80 204.04H177.40M174.80 202.57H177.40M174.80 201.26H177.40M174.00 200.10H177.40M174.80 192.44H177.40M174.80 187.96H177.40M174.80 184.78H177.40M174.80 182.31H177.40M174.80 180.30H177.40M174.80 178.59H177.40M174.80 177.12H177.40M174.80 175.81H177.40M174.00 174.65H177.40M174.80 166.99H177.40M174.80 162.51H177.40M174.80 159.33H177.40M174.80 156.86H177.40M174.80 154.85H177.40M174.80 153.14H177.40M174.80 151.67H177.40M174.80 150.36H177.40M174.00 149.20H177.40" stroke="#111" stroke-width="1.1" fill="none"/>
<path d="M177.40 251.00V255.20M182.84 251.00V254.00M188.28 251.00V254.00M193.72 251.00V254.00M199.16 251.00V255.20M204.60 251.00V254.00M210.04 251.00V254.00M215.48 251.00V254.00M220.92 251.00V255.20M226.36 251.00V254.00M231.80 251.00V254.00M237.24 251.00V254.00M242.68 251.00V255.20M248.12 251.00V254.00M253.56 251.00V254.00M259.00 251.00V254.00M264.44 251.00V255.20M269.88 251.00V254.00M275.32 251.00V254.00M280.76 251.00V254.00M286.20 251.00V255.20" stroke="#111" stroke-width="1.15" fill="none"/>
<rect x="52.40" y="266.20" width="109.70" height="100.70" fill="none" stroke="#111" stroke-width="1.4"/>
<path d="M69.10 266.20V366.90M52.40 335.30H162.10" stroke="#111" stroke-width="1.45"/>
<path d="M49.00 366.90H52.40M49.80 359.32H52.40M49.80 354.89H52.40M49.80 351.74H52.40M49.80 349.30H52.40M49.80 347.31H52.40M49.80 345.62H52.40M49.80 344.16H52.40M49.80 342.88H52.40M49.00 341.72H52.40M49.80 334.15H52.40M49.80 329.71H52.40M49.80 326.57H52.40M49.80 324.13H52.40M49.80 322.14H52.40M49.80 320.45H52.40M49.80 318.99H52.40M49.80 317.70H52.40M49.00 316.55H52.40M49.80 308.97H52.40M49.80 304.54H52.40M49.80 301.39H52.40M49.80 298.95H52.40M49.80 296.96H52.40M49.80 295.27H52.40M49.80 293.81H52.40M49.80 292.53H52.40M49.00 291.38H52.40M49.80 283.80H52.40M49.80 279.36H52.40M49.80 276.22H52.40M49.80 273.78H52.40M49.80 271.79H52.40M49.80 270.10H52.40M49.80 268.64H52.40M49.80 267.35H52.40M49.00 266.20H52.40" stroke="#111" stroke-width="1.1" fill="none"/>
<path d="M52.40 366.90V371.10M57.88 366.90V369.90M63.37 366.90V369.90M68.85 366.90V369.90M74.34 366.90V371.10M79.82 366.90V369.90M85.31 366.90V369.90M90.79 366.90V369.90M96.28 366.90V371.10M101.76 366.90V369.90M107.25 366.90V369.90M112.73 366.90V369.90M118.22 366.90V371.10M123.70 366.90V369.90M129.19 366.90V369.90M134.67 366.90V369.90M140.16 366.90V371.10M145.64 366.90V369.90M151.13 366.90V369.90M156.61 366.90V369.90M162.10 366.90V371.10" stroke="#111" stroke-width="1.15" fill="none"/>
<rect x="178.60" y="266.90" width="108.30" height="100.00" fill="none" stroke="#111" stroke-width="1.4"/>
<path d="M195.00 266.90V366.90M178.60 338.50H286.90" stroke="#111" stroke-width="1.45"/>
<path d="M175.20 366.90H178.60M176.00 359.37H178.60M176.00 354.97H178.60M176.00 351.85H178.60M176.00 349.43H178.60M176.00 347.45H178.60M176.00 345.77H178.60M176.00 344.32H178.60M176.00 343.04H178.60M175.20 341.90H178.60M176.00 334.37H178.60M176.00 329.97H178.60M176.00 326.85H178.60M176.00 324.43H178.60M176.00 322.45H178.60M176.00 320.77H178.60M176.00 319.32H178.60M176.00 318.04H178.60M175.20 316.90H178.60M176.00 309.37H178.60M176.00 304.97H178.60M176.00 301.85H178.60M176.00 299.43H178.60M176.00 297.45H178.60M176.00 295.77H178.60M176.00 294.32H178.60M176.00 293.04H178.60M175.20 291.90H178.60M176.00 284.37H178.60M176.00 279.97H178.60M176.00 276.85H178.60M176.00 274.43H178.60M176.00 272.45H178.60M176.00 270.77H178.60M176.00 269.32H178.60M176.00 268.04H178.60M175.20 266.90H178.60" stroke="#111" stroke-width="1.1" fill="none"/>
<path d="M178.60 366.90V371.10M184.01 366.90V369.90M189.43 366.90V369.90M194.84 366.90V369.90M200.26 366.90V371.10M205.67 366.90V369.90M211.09 366.90V369.90M216.50 366.90V369.90M221.92 366.90V371.10M227.33 366.90V369.90M232.75 366.90V369.90M238.16 366.90V369.90M243.58 366.90V371.10M248.99 366.90V369.90M254.41 366.90V369.90M259.82 366.90V369.90M265.24 366.90V371.10M270.65 366.90V369.90M276.07 366.90V369.90M281.49 366.90V369.90M286.90 366.90V371.10" stroke="#111" stroke-width="1.15" fill="none"/>
<clipPath id="gc1"><path d="M360.0 138.3L362.0 137.2L364.0 137.9L366.5 136.6L369.0 137.6L371.5 136.4L373.5 137.2L375.0 136.5L377.5 131.3L380.2 124.6L382.3 119.4L384.4 111.4L386.9 98.2L388.3 85.0L389.9 74.6L391.6 54.8L392.8 48.0L393.3 42.3L393.8 42.5L394.3 49.0L395.1 54.8L397.4 74.6L398.7 85.0L401.3 98.2L404.0 111.4L407.4 119.4L410.0 124.6L412.7 128.6L417.3 133.9L421.3 136.0L427.0 137.6L432.0 138.3L432.0 138.4L360.0 138.4Z"/></clipPath>
<path d="M360.0 138.3L362.0 137.2L364.0 137.9L366.5 136.6L369.0 137.6L371.5 136.4L373.5 137.2L375.0 136.5L377.5 131.3L380.2 124.6L382.3 119.4L384.4 111.4L386.9 98.2L388.3 85.0L389.9 74.6L391.6 54.8L392.8 48.0L393.3 42.3L393.8 42.5L394.3 49.0L395.1 54.8L397.4 74.6L398.7 85.0L401.3 98.2L404.0 111.4L407.4 119.4L410.0 124.6L412.7 128.6L417.3 133.9L421.3 136.0L427.0 137.6L432.0 138.3L432.0 138.4L360.0 138.4Z" fill="url(#gpat)" stroke="none"/>
<path d="M348.6 138.3L348.6 101.0L349.4 101.0L349.6 133.5L350.5 134.3L351.6 133.2L354.2 128.6L356.2 119.3L358.2 111.4L360.2 98.2L361.5 85.0L362.8 69.6L364.8 43.2L366.0 36.0L366.6 35.0L367.4 37.0L368.3 34.6L369.0 35.5L370.0 43.2L372.0 69.6L373.0 85.0L375.1 98.2L376.7 111.4L378.7 120.6L380.0 123.5L383.0 127.0L388.0 130.0L393.0 132.0L400.0 134.0L408.0 136.0L415.0 137.2L425.0 137.8L456.0 137.9" fill="none" stroke="#c83a6c" stroke-width="1.3" stroke-linejoin="round"/>
<path d="M348.6 138.3L348.6 101.0L349.4 101.0L349.6 133.5L350.5 134.3L351.6 133.2L354.2 128.6L356.2 119.3L358.2 111.4L360.2 98.2L361.5 85.0L362.8 69.6L364.8 43.2L366.0 36.0L366.6 35.0L367.4 37.0L368.3 34.6L369.0 35.5L370.0 43.2L372.0 69.6L373.0 85.0L375.1 98.2L376.7 111.4L378.7 120.6L380.0 123.5L383.0 127.0L388.0 130.0L393.0 132.0L400.0 134.0L408.0 136.0L415.0 137.2L425.0 137.8L456.0 137.9" fill="none" stroke="#8c5a2c" stroke-width="1.5" stroke-linejoin="round" stroke-dasharray="2 1.2" clip-path="url(#gc1)"/>
<path d="M360.0 138.3L362.0 137.2L364.0 137.9L366.5 136.6L369.0 137.6L371.5 136.4L373.5 137.2L375.0 136.5L377.5 131.3L380.2 124.6L382.3 119.4L384.4 111.4L386.9 98.2L388.3 85.0L389.9 74.6L391.6 54.8L392.8 48.0L393.3 42.3L393.8 42.5L394.3 49.0L395.1 54.8L397.4 74.6L398.7 85.0L401.3 98.2L404.0 111.4L407.4 119.4L410.0 124.6L412.7 128.6L417.3 133.9L421.3 136.0L427.0 137.6L432.0 138.3" fill="none" stroke="#0a0a0a" stroke-width="1.4" stroke-linejoin="round"/>
<rect x="348.10" y="33.10" width="108.10" height="105.30" fill="none" stroke="#111" stroke-width="1.4"/>
<path d="M344.90 138.40H348.10M345.70 134.25H348.10M345.70 130.10H348.10M345.70 125.94H348.10M345.70 121.79H348.10M344.90 117.64H348.10M345.70 113.49H348.10M345.70 109.34H348.10M345.70 105.18H348.10M345.70 101.03H348.10M344.90 96.88H348.10M345.70 92.73H348.10M345.70 88.58H348.10M345.70 84.42H348.10M345.70 80.27H348.10M344.90 76.12H348.10M345.70 71.97H348.10M345.70 67.82H348.10M345.70 63.66H348.10M345.70 59.51H348.10M344.90 55.36H348.10M345.70 51.21H348.10M345.70 47.06H348.10M345.70 42.90H348.10M345.70 38.75H348.10M344.90 34.60H348.10" stroke="#111" stroke-width="1.1" fill="none"/>
<path d="M348.10 138.40V142.00M356.24 138.40V141.00M360.99 138.40V141.00M364.37 138.40V141.00M366.99 138.40V141.00M369.13 138.40V141.00M370.94 138.40V141.00M372.51 138.40V141.00M373.89 138.40V141.00M375.12 138.40V142.00M383.26 138.40V141.00M388.02 138.40V141.00M391.40 138.40V141.00M394.01 138.40V141.00M396.15 138.40V141.00M397.96 138.40V141.00M399.53 138.40V141.00M400.91 138.40V141.00M402.15 138.40V142.00M410.29 138.40V141.00M415.04 138.40V141.00M418.42 138.40V141.00M421.04 138.40V141.00M423.18 138.40V141.00M424.99 138.40V141.00M426.56 138.40V141.00M427.94 138.40V141.00M429.18 138.40V142.00M437.31 138.40V141.00M442.07 138.40V141.00M445.45 138.40V141.00M448.06 138.40V141.00M450.20 138.40V141.00M452.01 138.40V141.00M453.58 138.40V141.00M454.96 138.40V141.00M456.20 138.40V142.00" stroke="#111" stroke-width="1.1" fill="none"/>
<clipPath id="gc2"><path d="M350.0 254.5L352.0 253.5L356.0 250.0L360.0 246.5L364.0 243.0L368.7 240.6L372.0 241.5L376.0 239.2L379.0 242.5L381.0 241.5L383.6 239.7L385.2 235.9L386.7 225.3L388.2 218.5L390.0 215.0L392.4 209.4L393.5 212.0L395.0 216.2L397.3 228.3L399.5 239.0L401.8 246.5L404.0 251.8L409.4 254.3L412.0 254.6L412.0 254.8L350.0 254.8Z"/></clipPath>
<path d="M350.0 254.5L352.0 253.5L356.0 250.0L360.0 246.5L364.0 243.0L368.7 240.6L372.0 241.5L376.0 239.2L379.0 242.5L381.0 241.5L383.6 239.7L385.2 235.9L386.7 225.3L388.2 218.5L390.0 215.0L392.4 209.4L393.5 212.0L395.0 216.2L397.3 228.3L399.5 239.0L401.8 246.5L404.0 251.8L409.4 254.3L412.0 254.6L412.0 254.8L350.0 254.8Z" fill="url(#gpat)" stroke="none"/>
<path d="M348.2 254.6L348.2 218.0L349.0 218.0L349.2 250.5L350.5 251.8L352.0 251.0L353.6 247.4L356.8 239.0L358.9 227.9L361.0 213.9L362.4 200.0L362.8 189.6L364.8 163.2L366.3 156.0L368.1 152.6L369.5 156.0L370.7 163.2L372.1 189.6L372.9 200.0L374.3 213.9L375.9 227.9L377.3 238.5L378.5 241.0L385.0 245.0L392.0 248.0L400.0 251.0L410.0 253.3L420.0 254.2L456.0 254.4" fill="none" stroke="#c83a6c" stroke-width="1.3" stroke-linejoin="round"/>
<path d="M348.2 254.6L348.2 218.0L349.0 218.0L349.2 250.5L350.5 251.8L352.0 251.0L353.6 247.4L356.8 239.0L358.9 227.9L361.0 213.9L362.4 200.0L362.8 189.6L364.8 163.2L366.3 156.0L368.1 152.6L369.5 156.0L370.7 163.2L372.1 189.6L372.9 200.0L374.3 213.9L375.9 227.9L377.3 238.5L378.5 241.0L385.0 245.0L392.0 248.0L400.0 251.0L410.0 253.3L420.0 254.2L456.0 254.4" fill="none" stroke="#8c5a2c" stroke-width="1.5" stroke-linejoin="round" stroke-dasharray="2 1.2" clip-path="url(#gc2)"/>
<path d="M350.0 254.5L352.0 253.5L356.0 250.0L360.0 246.5L364.0 243.0L368.7 240.6L372.0 241.5L376.0 239.2L379.0 242.5L381.0 241.5L383.6 239.7L385.2 235.9L386.7 225.3L388.2 218.5L390.0 215.0L392.4 209.4L393.5 212.0L395.0 216.2L397.3 228.3L399.5 239.0L401.8 246.5L404.0 251.8L409.4 254.3L412.0 254.6" fill="none" stroke="#0a0a0a" stroke-width="1.4" stroke-linejoin="round"/>
<rect x="347.90" y="152.20" width="108.10" height="102.60" fill="none" stroke="#111" stroke-width="1.4"/>
<path d="M344.70 254.80H347.90M345.50 250.76H347.90M345.50 246.71H347.90M345.50 242.67H347.90M345.50 238.62H347.90M344.70 234.58H347.90M345.50 230.54H347.90M345.50 226.49H347.90M345.50 222.45H347.90M345.50 218.40H347.90M344.70 214.36H347.90M345.50 210.32H347.90M345.50 206.27H347.90M345.50 202.23H347.90M345.50 198.18H347.90M344.70 194.14H347.90M345.50 190.10H347.90M345.50 186.05H347.90M345.50 182.01H347.90M345.50 177.96H347.90M344.70 173.92H347.90M345.50 169.88H347.90M345.50 165.83H347.90M345.50 161.79H347.90M345.50 157.74H347.90M344.70 153.70H347.90" stroke="#111" stroke-width="1.1" fill="none"/>
<path d="M347.90 254.80V258.40M356.04 254.80V257.40M360.79 254.80V257.40M364.17 254.80V257.40M366.79 254.80V257.40M368.93 254.80V257.40M370.74 254.80V257.40M372.31 254.80V257.40M373.69 254.80V257.40M374.92 254.80V258.40M383.06 254.80V257.40M387.82 254.80V257.40M391.20 254.80V257.40M393.81 254.80V257.40M395.95 254.80V257.40M397.76 254.80V257.40M399.33 254.80V257.40M400.71 254.80V257.40M401.95 254.80V258.40M410.09 254.80V257.40M414.84 254.80V257.40M418.22 254.80V257.40M420.84 254.80V257.40M422.98 254.80V257.40M424.79 254.80V257.40M426.36 254.80V257.40M427.74 254.80V257.40M428.98 254.80V258.40M437.11 254.80V257.40M441.87 254.80V257.40M445.25 254.80V257.40M447.86 254.80V257.40M450.00 254.80V257.40M451.81 254.80V257.40M453.38 254.80V257.40M454.76 254.80V257.40M456.00 254.80V258.40" stroke="#111" stroke-width="1.1" fill="none"/>
<clipPath id="gc3"><path d="M349.5 367.8L350.0 367.0L354.6 364.3L358.7 360.2L362.1 354.7L364.2 350.6L366.2 342.4L367.6 328.7L369.0 315.0L369.5 304.7L370.8 291.5L371.5 278.2L372.6 272.0L373.4 270.3L374.3 272.0L375.7 278.2L376.7 291.5L377.4 304.7L377.9 315.0L378.6 328.7L379.9 342.4L382.0 344.5L384.7 342.4L386.1 344.5L387.5 350.6L389.5 356.1L392.3 361.6L396.4 365.0L402.5 366.8L408.0 367.6L412.0 368.0L412.0 368.1L349.5 368.1Z"/></clipPath>
<path d="M349.5 367.8L350.0 367.0L354.6 364.3L358.7 360.2L362.1 354.7L364.2 350.6L366.2 342.4L367.6 328.7L369.0 315.0L369.5 304.7L370.8 291.5L371.5 278.2L372.6 272.0L373.4 270.3L374.3 272.0L375.7 278.2L376.7 291.5L377.4 304.7L377.9 315.0L378.6 328.7L379.9 342.4L382.0 344.5L384.7 342.4L386.1 344.5L387.5 350.6L389.5 356.1L392.3 361.6L396.4 365.0L402.5 366.8L408.0 367.6L412.0 368.0L412.0 368.1L349.5 368.1Z" fill="url(#gpat)" stroke="none"/>
<path d="M348.6 368.0L348.6 334.0L349.4 334.0L349.6 363.5L350.5 364.3L352.5 363.0L356.0 356.1L358.7 342.4L360.8 328.7L362.8 315.0L362.2 317.9L363.5 298.0L364.8 282.2L366.2 275.6L367.2 271.0L368.1 269.6L369.0 271.5L370.1 279.6L371.0 290.0L372.5 305.0L374.0 320.0L376.0 333.0L379.0 343.0L383.0 350.0L387.0 355.0L392.0 360.0L400.0 364.6L408.0 366.4L415.0 367.2L420.0 366.2L423.0 367.5L428.0 366.8L432.0 365.8L435.0 367.4L438.0 365.6L441.0 367.3L444.0 365.8L447.0 367.5L456.0 367.8" fill="none" stroke="#c83a6c" stroke-width="1.3" stroke-linejoin="round"/>
<path d="M348.6 368.0L348.6 334.0L349.4 334.0L349.6 363.5L350.5 364.3L352.5 363.0L356.0 356.1L358.7 342.4L360.8 328.7L362.8 315.0L362.2 317.9L363.5 298.0L364.8 282.2L366.2 275.6L367.2 271.0L368.1 269.6L369.0 271.5L370.1 279.6L371.0 290.0L372.5 305.0L374.0 320.0L376.0 333.0L379.0 343.0L383.0 350.0L387.0 355.0L392.0 360.0L400.0 364.6L408.0 366.4L415.0 367.2L420.0 366.2L423.0 367.5L428.0 366.8L432.0 365.8L435.0 367.4L438.0 365.6L441.0 367.3L444.0 365.8L447.0 367.5L456.0 367.8" fill="none" stroke="#8c5a2c" stroke-width="1.5" stroke-linejoin="round" stroke-dasharray="2 1.2" clip-path="url(#gc3)"/>
<path d="M349.5 367.8L350.0 367.0L354.6 364.3L358.7 360.2L362.1 354.7L364.2 350.6L366.2 342.4L367.6 328.7L369.0 315.0L369.5 304.7L370.8 291.5L371.5 278.2L372.6 272.0L373.4 270.3L374.3 272.0L375.7 278.2L376.7 291.5L377.4 304.7L377.9 315.0L378.6 328.7L379.9 342.4L382.0 344.5L384.7 342.4L386.1 344.5L387.5 350.6L389.5 356.1L392.3 361.6L396.4 365.0L402.5 366.8L408.0 367.6L412.0 368.0" fill="none" stroke="#0a0a0a" stroke-width="1.4" stroke-linejoin="round"/>
<rect x="348.20" y="269.00" width="108.10" height="99.10" fill="none" stroke="#111" stroke-width="1.4"/>
<path d="M345.00 368.10H348.20M345.80 364.20H348.20M345.80 360.29H348.20M345.80 356.39H348.20M345.80 352.48H348.20M345.00 348.58H348.20M345.80 344.68H348.20M345.80 340.77H348.20M345.80 336.87H348.20M345.80 332.96H348.20M345.00 329.06H348.20M345.80 325.16H348.20M345.80 321.25H348.20M345.80 317.35H348.20M345.80 313.44H348.20M345.00 309.54H348.20M345.80 305.64H348.20M345.80 301.73H348.20M345.80 297.83H348.20M345.80 293.92H348.20M345.00 290.02H348.20M345.80 286.12H348.20M345.80 282.21H348.20M345.80 278.31H348.20M345.80 274.40H348.20M345.00 270.50H348.20" stroke="#111" stroke-width="1.1" fill="none"/>
<path d="M348.20 368.10V371.70M356.34 368.10V370.70M361.09 368.10V370.70M364.47 368.10V370.70M367.09 368.10V370.70M369.23 368.10V370.70M371.04 368.10V370.70M372.61 368.10V370.70M373.99 368.10V370.70M375.23 368.10V371.70M383.36 368.10V370.70M388.12 368.10V370.70M391.50 368.10V370.70M394.11 368.10V370.70M396.25 368.10V370.70M398.06 368.10V370.70M399.63 368.10V370.70M401.01 368.10V370.70M402.25 368.10V371.70M410.39 368.10V370.70M415.14 368.10V370.70M418.52 368.10V370.70M421.14 368.10V370.70M423.28 368.10V370.70M425.09 368.10V370.70M426.66 368.10V370.70M428.04 368.10V370.70M429.27 368.10V371.70M437.41 368.10V370.70M442.17 368.10V370.70M445.55 368.10V370.70M448.16 368.10V370.70M450.30 368.10V370.70M452.11 368.10V370.70M453.68 368.10V370.70M455.06 368.10V370.70M456.30 368.10V371.70" stroke="#111" stroke-width="1.1" fill="none"/>
<text transform="translate(50.2 23.9) scale(1.12 1)" font-family='"Liberation Sans", sans-serif' font-size="24" font-weight="bold">A</text>
<text x="345.5" y="23.9" font-family='"Liberation Sans", sans-serif' font-size="24" font-weight="bold" text-anchor="start" >B</text>
<text x="86.5" y="22.5" font-family='"Liberation Serif", serif' font-size="13.5" font-weight="bold" textLength="27.6" lengthAdjust="spacingAndGlyphs" >Base</text>
<text x="180.6" y="21.8" font-family='"Liberation Serif", serif' font-size="12.5" font-weight="bold" text-anchor="start" >+</text>
<text x="194.7" y="21.8" font-family='"Liberation Serif", serif' font-size="11.9" font-weight="bold" textLength="52.6" lengthAdjust="spacingAndGlyphs" >anti-IL-6</text>
<text x="252.6" y="21.8" font-family='"Liberation Serif", serif' font-size="11.9" font-weight="bold" textLength="27.6" lengthAdjust="spacingAndGlyphs" >mAb</text>
<text x="79.9" y="46.1" font-family='"Liberation Serif", serif' font-size="11.2" font-weight="bold" textLength="27.0" lengthAdjust="spacingAndGlyphs" >BrdU</text>
<text x="108.3" y="41.0" font-family='"Liberation Serif", serif' font-size="6.8" font-weight="bold" text-anchor="start" stroke="#000" stroke-width="0.35">+</text>
<text x="112.6" y="47.0" font-family='"Liberation Serif", serif' font-size="11.2" font-weight="bold" text-anchor="start" >=</text>
<text x="125.1" y="46.1" font-family='"Liberation Serif", serif' font-size="11.2" font-weight="bold" textLength="31.1" lengthAdjust="spacingAndGlyphs" >61.3%</text>
<text x="246.9" y="46.0" font-family='"Liberation Serif", serif' font-size="11.5" font-weight="bold" textLength="30.6" lengthAdjust="spacingAndGlyphs" >27.2%</text>
<text x="118.8" y="163.0" font-family='"Liberation Serif", serif' font-size="10.6" font-weight="bold" textLength="33.2" lengthAdjust="spacingAndGlyphs" >30.9&#160;%</text>
<text x="249.3" y="163.2" font-family='"Liberation Serif", serif' font-size="10.8" font-weight="bold" textLength="27.2" lengthAdjust="spacingAndGlyphs" >9.9&#160;%</text>
<text x="128.5" y="281.0" font-family='"Liberation Serif", serif' font-size="10.8" font-weight="bold" textLength="27.6" lengthAdjust="spacingAndGlyphs" >7.2&#160;%</text>
<text x="252.6" y="282.3" font-family='"Liberation Serif", serif' font-size="10.6" font-weight="bold" textLength="26.5" lengthAdjust="spacingAndGlyphs" >6.4&#160;%</text>
<text x="473.6" y="54.5" font-family='"Liberation Serif", serif' font-size="13.4" font-weight="bold" textLength="42.0" lengthAdjust="spacingAndGlyphs" >MCC-2</text>
<text x="473.6" y="169.8" font-family='"Liberation Serif", serif' font-size="13.4" font-weight="bold" textLength="42.0" lengthAdjust="spacingAndGlyphs" >MCC-3</text>
<text x="473.6" y="289.5" font-family='"Liberation Serif", serif' font-size="13.4" font-weight="bold" textLength="42.0" lengthAdjust="spacingAndGlyphs" >MCC-4</text>
<text x="124.6" y="409.2" font-family='"Liberation Serif", serif' font-size="12" font-weight="bold" textLength="86.2" lengthAdjust="spacingAndGlyphs" >DNA CONTENT</text>
<text x="343.5" y="411.3" font-family='"Liberation Serif", serif' font-size="11.3" font-weight="bold" textLength="109.4" lengthAdjust="spacingAndGlyphs" >CYTOPLASMIC IL-6</text>
<text transform="translate(10.9 282.9) rotate(-90)" font-family='"Liberation Serif", serif' font-size="13.6" font-weight="bold" textLength="155.4" lengthAdjust="spacingAndGlyphs">BrdU&#160;&#160;INCORPORATION</text>
<path d="M21.8 366.6V43" stroke="#222" stroke-width="1.1"/>
<path d="M21.7 35.6L18.7 45.2H24.9Z" fill="#111"/>
<text transform="translate(45.40 137.55) rotate(-90)" font-family='"Liberation Sans", sans-serif' font-size="7.3" font-weight="normal" text-anchor="start" stroke="#000" stroke-width="0.2">10<tspan dy="-5.4" font-size="6.6">0</tspan></text>
<text transform="translate(45.40 112.85) rotate(-90)" font-family='"Liberation Sans", sans-serif' font-size="7.3" font-weight="normal" text-anchor="start" stroke="#000" stroke-width="0.2">10<tspan dy="-5.4" font-size="6.6">1</tspan></text>
<text transform="translate(45.40 88.15) rotate(-90)" font-family='"Liberation Sans", sans-serif' font-size="7.3" font-weight="normal" text-anchor="start" stroke="#000" stroke-width="0.2">10<tspan dy="-5.4" font-size="6.6">2</tspan></text>
<text transform="translate(45.40 63.45) rotate(-90)" font-family='"Liberation Sans", sans-serif' font-size="7.3" font-weight="normal" text-anchor="start" stroke="#000" stroke-width="0.2">10<tspan dy="-5.4" font-size="6.6">3</tspan></text>
<text transform="translate(45.40 38.75) rotate(-90)" font-family='"Liberation Sans", sans-serif' font-size="7.3" font-weight="normal" text-anchor="start" stroke="#000" stroke-width="0.2">10<tspan dy="-5.4" font-size="6.6">4</tspan></text>
<text transform="translate(33.00 93.80) rotate(-90)" font-family='"Liberation Sans", sans-serif' font-size="6.3" font-weight="normal" text-anchor="start" textLength="21.2" lengthAdjust="spacingAndGlyphs" stroke="#000" stroke-width="0.2">FL1-H</text>
<text transform="translate(45.40 254.65) rotate(-90)" font-family='"Liberation Sans", sans-serif' font-size="7.3" font-weight="normal" text-anchor="start" stroke="#000" stroke-width="0.2">10<tspan dy="-5.4" font-size="6.6">0</tspan></text>
<text transform="translate(45.40 229.95) rotate(-90)" font-family='"Liberation Sans", sans-serif' font-size="7.3" font-weight="normal" text-anchor="start" stroke="#000" stroke-width="0.2">10<tspan dy="-5.4" font-size="6.6">1</tspan></text>
<text transform="translate(45.40 205.25) rotate(-90)" font-family='"Liberation Sans", sans-serif' font-size="7.3" font-weight="normal" text-anchor="start" stroke="#000" stroke-width="0.2">10<tspan dy="-5.4" font-size="6.6">2</tspan></text>
<text transform="translate(45.40 180.55) rotate(-90)" font-family='"Liberation Sans", sans-serif' font-size="7.3" font-weight="normal" text-anchor="start" stroke="#000" stroke-width="0.2">10<tspan dy="-5.4" font-size="6.6">3</tspan></text>
<text transform="translate(45.40 155.85) rotate(-90)" font-family='"Liberation Sans", sans-serif' font-size="7.3" font-weight="normal" text-anchor="start" stroke="#000" stroke-width="0.2">10<tspan dy="-5.4" font-size="6.6">4</tspan></text>
<text transform="translate(33.00 210.65) rotate(-90)" font-family='"Liberation Sans", sans-serif' font-size="6.3" font-weight="normal" text-anchor="start" textLength="21.2" lengthAdjust="spacingAndGlyphs" stroke="#000" stroke-width="0.2">FL1-H</text>
<text transform="translate(45.40 371.25) rotate(-90)" font-family='"Liberation Sans", sans-serif' font-size="7.3" font-weight="normal" text-anchor="start" stroke="#000" stroke-width="0.2">10<tspan dy="-5.4" font-size="6.6">0</tspan></text>
<text transform="translate(45.40 346.55) rotate(-90)" font-family='"Liberation Sans", sans-serif' font-size="7.3" font-weight="normal" text-anchor="start" stroke="#000" stroke-width="0.2">10<tspan dy="-5.4" font-size="6.6">1</tspan></text>
<text transform="translate(45.40 321.85) rotate(-90)" font-family='"Liberation Sans", sans-serif' font-size="7.3" font-weight="normal" text-anchor="start" stroke="#000" stroke-width="0.2">10<tspan dy="-5.4" font-size="6.6">2</tspan></text>
<text transform="translate(45.40 297.15) rotate(-90)" font-family='"Liberation Sans", sans-serif' font-size="7.3" font-weight="normal" text-anchor="start" stroke="#000" stroke-width="0.2">10<tspan dy="-5.4" font-size="6.6">3</tspan></text>
<text transform="translate(45.40 272.45) rotate(-90)" font-family='"Liberation Sans", sans-serif' font-size="7.3" font-weight="normal" text-anchor="start" stroke="#000" stroke-width="0.2">10<tspan dy="-5.4" font-size="6.6">4</tspan></text>
<text transform="translate(33.00 327.35) rotate(-90)" font-family='"Liberation Sans", sans-serif' font-size="6.3" font-weight="normal" text-anchor="start" textLength="21.2" lengthAdjust="spacingAndGlyphs" stroke="#000" stroke-width="0.2">FL1-H</text>
<text x="54.6" y="378.7" font-family='"Liberation Sans", sans-serif' font-size="7.7" font-weight="normal" text-anchor="middle" stroke="#000" stroke-width="0.35">0</text>
<text x="75.0" y="378.7" font-family='"Liberation Sans", sans-serif' font-size="7.7" font-weight="normal" text-anchor="middle" stroke="#000" stroke-width="0.35">200</text>
<text x="98.1" y="378.7" font-family='"Liberation Sans", sans-serif' font-size="7.7" font-weight="normal" text-anchor="middle" stroke="#000" stroke-width="0.35">400</text>
<text x="119.0" y="378.7" font-family='"Liberation Sans", sans-serif' font-size="7.7" font-weight="normal" text-anchor="middle" stroke="#000" stroke-width="0.35">600</text>
<text x="139.6" y="378.7" font-family='"Liberation Sans", sans-serif' font-size="7.7" font-weight="normal" text-anchor="middle" stroke="#000" stroke-width="0.35">800</text>
<text x="159.0" y="378.7" font-family='"Liberation Sans", sans-serif' font-size="7.7" font-weight="normal" text-anchor="middle" stroke="#000" stroke-width="0.35">1000</text>
<text x="180.1" y="378.7" font-family='"Liberation Sans", sans-serif' font-size="7.7" font-weight="normal" text-anchor="middle" stroke="#000" stroke-width="0.35">0</text>
<text x="201.9" y="378.7" font-family='"Liberation Sans", sans-serif' font-size="7.7" font-weight="normal" text-anchor="middle" stroke="#000" stroke-width="0.35">200</text>
<text x="223.1" y="378.7" font-family='"Liberation Sans", sans-serif' font-size="7.7" font-weight="normal" text-anchor="middle" stroke="#000" stroke-width="0.35">400</text>
<text x="243.8" y="378.7" font-family='"Liberation Sans", sans-serif' font-size="7.7" font-weight="normal" text-anchor="middle" stroke="#000" stroke-width="0.35">600</text>
<text x="264.4" y="378.7" font-family='"Liberation Sans", sans-serif' font-size="7.7" font-weight="normal" text-anchor="middle" stroke="#000" stroke-width="0.35">800</text>
<text x="283.8" y="378.7" font-family='"Liberation Sans", sans-serif' font-size="7.7" font-weight="normal" text-anchor="middle" stroke="#000" stroke-width="0.35">1000</text>
<text x="106.8" y="388.9" font-family='"Liberation Sans", sans-serif' font-size="7.0" font-weight="bold" text-anchor="middle" textLength="20.5" lengthAdjust="spacingAndGlyphs">FL2-A</text>
<text x="232.1" y="388.9" font-family='"Liberation Sans", sans-serif' font-size="7.0" font-weight="bold" text-anchor="middle" textLength="21" lengthAdjust="spacingAndGlyphs">FL2-A</text>
<text transform="translate(341.60 138.40) rotate(-90)" font-family='"Liberation Sans", sans-serif' font-size="7.0" font-weight="normal" text-anchor="middle" stroke="#000" stroke-width="0.3">0</text>
<text transform="translate(341.60 117.64) rotate(-90)" font-family='"Liberation Sans", sans-serif' font-size="7.0" font-weight="normal" text-anchor="middle" stroke="#000" stroke-width="0.3">20</text>
<text transform="translate(341.60 96.88) rotate(-90)" font-family='"Liberation Sans", sans-serif' font-size="7.0" font-weight="normal" text-anchor="middle" stroke="#000" stroke-width="0.3">40</text>
<text transform="translate(341.60 76.12) rotate(-90)" font-family='"Liberation Sans", sans-serif' font-size="7.0" font-weight="normal" text-anchor="middle" stroke="#000" stroke-width="0.3">60</text>
<text transform="translate(341.60 55.36) rotate(-90)" font-family='"Liberation Sans", sans-serif' font-size="7.0" font-weight="normal" text-anchor="middle" stroke="#000" stroke-width="0.3">80</text>
<text transform="translate(341.60 34.60) rotate(-90)" font-family='"Liberation Sans", sans-serif' font-size="7.0" font-weight="normal" text-anchor="middle" stroke="#000" stroke-width="0.3">100</text>
<text transform="translate(331.90 85.25) rotate(-90)" font-family='"Liberation Sans", sans-serif' font-size="7.6" font-weight="normal" text-anchor="middle" stroke="#000" stroke-width="0.3">Counts</text>
<text transform="translate(341.60 254.80) rotate(-90)" font-family='"Liberation Sans", sans-serif' font-size="7.0" font-weight="normal" text-anchor="middle" stroke="#000" stroke-width="0.3">0</text>
<text transform="translate(341.60 234.58) rotate(-90)" font-family='"Liberation Sans", sans-serif' font-size="7.0" font-weight="normal" text-anchor="middle" stroke="#000" stroke-width="0.3">20</text>
<text transform="translate(341.60 214.36) rotate(-90)" font-family='"Liberation Sans", sans-serif' font-size="7.0" font-weight="normal" text-anchor="middle" stroke="#000" stroke-width="0.3">40</text>
<text transform="translate(341.60 194.14) rotate(-90)" font-family='"Liberation Sans", sans-serif' font-size="7.0" font-weight="normal" text-anchor="middle" stroke="#000" stroke-width="0.3">60</text>
<text transform="translate(341.60 173.92) rotate(-90)" font-family='"Liberation Sans", sans-serif' font-size="7.0" font-weight="normal" text-anchor="middle" stroke="#000" stroke-width="0.3">80</text>
<text transform="translate(341.60 153.70) rotate(-90)" font-family='"Liberation Sans", sans-serif' font-size="7.0" font-weight="normal" text-anchor="middle" stroke="#000" stroke-width="0.3">100</text>
<text transform="translate(331.90 203.00) rotate(-90)" font-family='"Liberation Sans", sans-serif' font-size="7.6" font-weight="normal" text-anchor="middle" stroke="#000" stroke-width="0.3">Counts</text>
<text transform="translate(341.60 368.10) rotate(-90)" font-family='"Liberation Sans", sans-serif' font-size="7.0" font-weight="normal" text-anchor="middle" stroke="#000" stroke-width="0.3">0</text>
<text transform="translate(341.60 348.58) rotate(-90)" font-family='"Liberation Sans", sans-serif' font-size="7.0" font-weight="normal" text-anchor="middle" stroke="#000" stroke-width="0.3">20</text>
<text transform="translate(341.60 329.06) rotate(-90)" font-family='"Liberation Sans", sans-serif' font-size="7.0" font-weight="normal" text-anchor="middle" stroke="#000" stroke-width="0.3">40</text>
<text transform="translate(341.60 309.54) rotate(-90)" font-family='"Liberation Sans", sans-serif' font-size="7.0" font-weight="normal" text-anchor="middle" stroke="#000" stroke-width="0.3">60</text>
<text transform="translate(341.60 290.02) rotate(-90)" font-family='"Liberation Sans", sans-serif' font-size="7.0" font-weight="normal" text-anchor="middle" stroke="#000" stroke-width="0.3">80</text>
<text transform="translate(341.60 270.50) rotate(-90)" font-family='"Liberation Sans", sans-serif' font-size="7.0" font-weight="normal" text-anchor="middle" stroke="#000" stroke-width="0.3">100</text>
<text transform="translate(331.90 318.05) rotate(-90)" font-family='"Liberation Sans", sans-serif' font-size="7.6" font-weight="normal" text-anchor="middle" stroke="#000" stroke-width="0.3">Counts</text>
<text x="342.6" y="382.6" font-family='"Liberation Sans", sans-serif' font-size="8.1" stroke="#000" stroke-width="0.25">10<tspan dy="-4.7" font-size="7">0</tspan></text>
<text x="369.6" y="382.6" font-family='"Liberation Sans", sans-serif' font-size="8.1" stroke="#000" stroke-width="0.25">10<tspan dy="-4.7" font-size="7">1</tspan></text>
<text x="396.6" y="382.6" font-family='"Liberation Sans", sans-serif' font-size="8.1" stroke="#000" stroke-width="0.25">10<tspan dy="-4.7" font-size="7">2</tspan></text>
<text x="423.7" y="382.6" font-family='"Liberation Sans", sans-serif' font-size="8.1" stroke="#000" stroke-width="0.25">10<tspan dy="-4.7" font-size="7">3</tspan></text>
<text x="450.7" y="382.6" font-family='"Liberation Sans", sans-serif' font-size="8.1" stroke="#000" stroke-width="0.25">10<tspan dy="-4.7" font-size="7">4</tspan></text>
<text x="398.1" y="389.5" font-family='"Liberation Sans", sans-serif' font-size="7.0" font-weight="bold" text-anchor="middle" textLength="19" lengthAdjust="spacingAndGlyphs">FL2-H</text>
<path d="M382.2 54.6H425.0M382.2 47.6V62.4M425.0 47.6V62.4" stroke="#111" stroke-width="1.3" fill="none"/><text x="403.4" y="70.6" font-family='"Liberation Sans", sans-serif' font-size="7.0" font-weight="bold" text-anchor="start" textLength="11.6" lengthAdjust="spacingAndGlyphs" stroke="#000" stroke-width="0.25">M1</text>
<path d="M379.4 191.3H441.1M379.4 183.5V197.7M441.1 183.5V197.7" stroke="#111" stroke-width="1.3" fill="none"/><text x="401.3" y="205.0" font-family='"Liberation Sans", sans-serif' font-size="7.0" font-weight="bold" text-anchor="start" textLength="13" lengthAdjust="spacingAndGlyphs" stroke="#000" stroke-width="0.25">M1</text>
<path d="M381.3 302.0H424.4M381.3 295.0V309.0M424.4 295.0V309.0" stroke="#111" stroke-width="1.3" fill="none"/><text x="397.0" y="316.2" font-family='"Liberation Sans", sans-serif' font-size="7.0" font-weight="bold" text-anchor="start" textLength="12.6" lengthAdjust="spacingAndGlyphs" stroke="#000" stroke-width="0.25">M1</text>
<text x="371.2" y="43.7" font-family='"Liberation Serif", serif' font-size="10.4" font-weight="bold" textLength="19.4" lengthAdjust="spacingAndGlyphs" >IL-6</text>
<text x="395.6" y="40.6" font-family='"Liberation Serif", serif' font-size="7.6" font-weight="bold" text-anchor="start" stroke="#000" stroke-width="0.35">+</text>
<text x="402.3" y="43.6" font-family='"Liberation Serif", serif' font-size="11.0" font-weight="bold" text-anchor="start" >=</text>
<text x="414.6" y="43.9" font-family='"Liberation Serif", serif' font-size="10.4" font-weight="bold" textLength="29.2" lengthAdjust="spacingAndGlyphs" >96.4%</text>
<text x="395.8" y="180.5" font-family='"Liberation Sans", sans-serif' font-size="10" font-weight="bold" textLength="33.2" lengthAdjust="spacingAndGlyphs" >74.7&#160;%</text>
<text x="385.3" y="292.4" font-family='"Liberation Serif", serif' font-size="10.2" font-weight="bold" textLength="35.4" lengthAdjust="spacingAndGlyphs" >10.3%</text>
</svg></body></html>
